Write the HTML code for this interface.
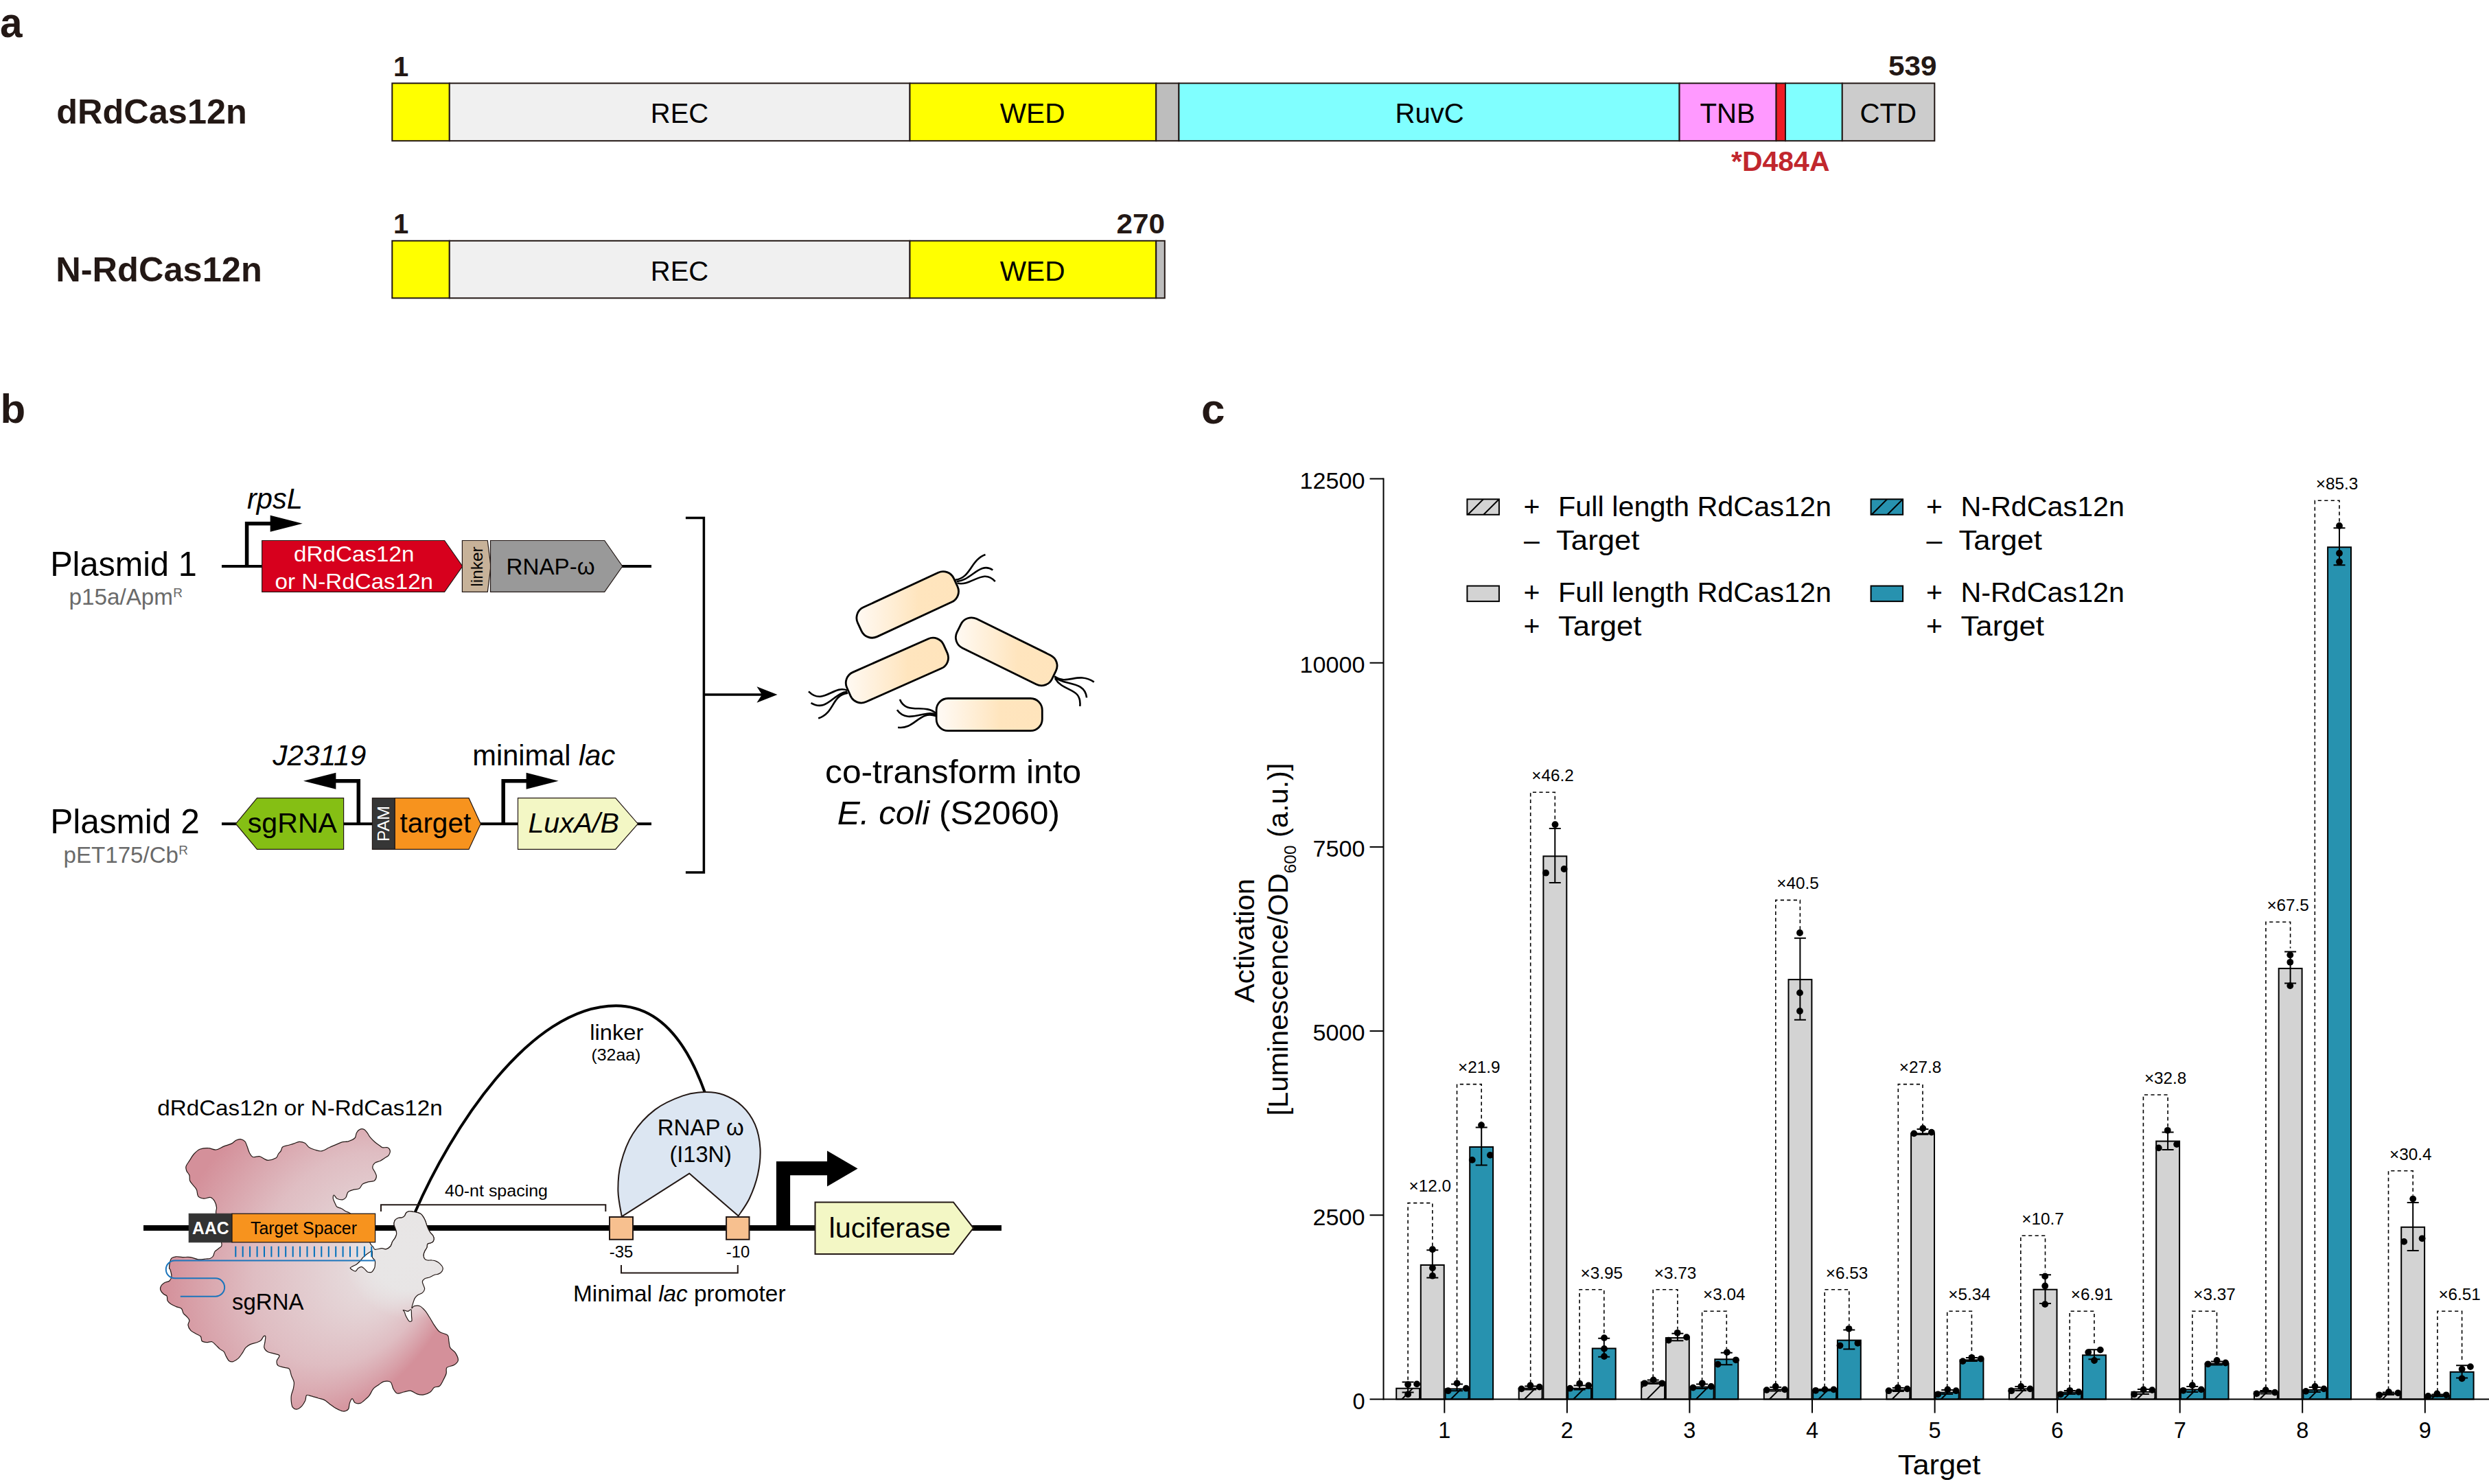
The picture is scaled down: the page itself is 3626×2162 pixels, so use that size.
<!DOCTYPE html>
<html><head><meta charset="utf-8"><title>Figure</title>
<style>html,body{margin:0;padding:0;background:#fff;}svg{display:block;}text{white-space:pre;}</style>
</head><body>
<svg width="3626" height="2162" viewBox="0 0 3626 2162" font-family='"Liberation Sans", Arial, Helvetica, sans-serif'>
<g id="panel_a">
<text x="0.0" y="54.0" font-size="61" fill="#231815" font-weight="bold" textLength="32.5" lengthAdjust="spacingAndGlyphs">a</text>
<text x="82.3" y="179.7" font-size="49.5" fill="#231815" font-weight="bold" textLength="277.5" lengthAdjust="spacingAndGlyphs">dRdCas12n</text>
<text x="81.3" y="410.0" font-size="49.5" fill="#231815" font-weight="bold" textLength="300.5" lengthAdjust="spacingAndGlyphs">N-RdCas12n</text>
<rect x="571.3" y="121.3" width="83.5" height="83.9" fill="#FFFF00" stroke="#231815" stroke-width="2"/>
<rect x="654.8" y="121.3" width="670.7" height="83.9" fill="#F0F0F0" stroke="#231815" stroke-width="2"/>
<rect x="1325.5" y="121.3" width="358.7" height="83.9" fill="#FFFF00" stroke="#231815" stroke-width="2"/>
<rect x="1684.2" y="121.3" width="33.2" height="83.9" fill="#BDBDBD" stroke="#231815" stroke-width="2"/>
<rect x="1717.4" y="121.3" width="729.2" height="83.9" fill="#80FFFF" stroke="#231815" stroke-width="2"/>
<rect x="2446.6" y="121.3" width="141.0" height="83.9" fill="#FF99FF" stroke="#231815" stroke-width="2"/>
<rect x="2587.6" y="121.3" width="13.4" height="83.9" fill="#ED1C24" stroke="#231815" stroke-width="2"/>
<rect x="2601.0" y="121.3" width="82.8" height="83.9" fill="#80FFFF" stroke="#231815" stroke-width="2"/>
<rect x="2683.8" y="121.3" width="134.5" height="83.9" fill="#CCCCCC" stroke="#231815" stroke-width="2"/>
<rect x="571.3" y="350.8" width="83.5" height="83.5" fill="#FFFF00" stroke="#231815" stroke-width="2"/>
<rect x="654.8" y="350.8" width="670.7" height="83.5" fill="#F0F0F0" stroke="#231815" stroke-width="2"/>
<rect x="1325.5" y="350.8" width="358.7" height="83.5" fill="#FFFF00" stroke="#231815" stroke-width="2"/>
<rect x="1684.2" y="350.8" width="12.6" height="83.5" fill="#BDBDBD" stroke="#231815" stroke-width="2"/>
<text x="990.0" y="179.3" font-size="40" text-anchor="middle">REC</text>
<text x="1504.1" y="179.3" font-size="40" text-anchor="middle" textLength="94.8" lengthAdjust="spacingAndGlyphs">WED</text>
<text x="2082.6" y="179.3" font-size="40" text-anchor="middle" textLength="100.2" lengthAdjust="spacingAndGlyphs">RuvC</text>
<text x="2516.7" y="179.3" font-size="40" text-anchor="middle" textLength="80.2" lengthAdjust="spacingAndGlyphs">TNB</text>
<text x="2750.7" y="179.3" font-size="40" text-anchor="middle" textLength="82.5" lengthAdjust="spacingAndGlyphs">CTD</text>
<text x="990.0" y="409.3" font-size="40" text-anchor="middle">REC</text>
<text x="1504.1" y="409.3" font-size="40" text-anchor="middle" textLength="94.8" lengthAdjust="spacingAndGlyphs">WED</text>
<text x="573.0" y="110.6" font-size="40" fill="#231815" font-weight="bold">1</text>
<text x="573.0" y="340.2" font-size="40" fill="#231815" font-weight="bold">1</text>
<text x="2821.5" y="110.3" font-size="40" fill="#231815" font-weight="bold" text-anchor="end" textLength="70.5" lengthAdjust="spacingAndGlyphs">539</text>
<text x="1697.0" y="340.0" font-size="40" fill="#231815" font-weight="bold" text-anchor="end" textLength="70.5" lengthAdjust="spacingAndGlyphs">270</text>
<text x="2522.0" y="248.7" font-size="40" fill="#C1272D" font-weight="bold" textLength="143.5" lengthAdjust="spacingAndGlyphs">*D484A</text>
</g>
<g id="panel_b1">
<text x="0.5" y="616.0" font-size="60" fill="#231815" font-weight="bold">b</text>
<text x="73.2" y="838.7" font-size="50" textLength="213.5" lengthAdjust="spacingAndGlyphs">Plasmid 1</text>
<text x="100.5" y="881.2" font-size="32.5" fill="#6A6A6A" textLength="151.5" lengthAdjust="spacingAndGlyphs">p15a/Apm</text>
<text x="252.3" y="869.8" font-size="19" fill="#6A6A6A">R</text>
<line x1="323.0" y1="825.0" x2="949.0" y2="825.0" stroke="#000" stroke-width="4"/>
<path d="M359.6,825.0 V762.8 H394.7" fill="none" stroke="#000" stroke-width="5.5" stroke-linejoin="miter"/>
<polygon points="393.7,750.8 440.7,762.8 393.7,774.8" fill="#000"/>
<text x="360.0" y="741.0" font-size="42" font-style="italic" textLength="81.0" lengthAdjust="spacingAndGlyphs">rpsL</text>
<polygon points="381.7,787.5 647.6,787.5 673.8,825.0 647.6,862.3 381.7,862.3" fill="#D7001D" stroke="#231815" stroke-width="1.2"/>
<text x="515.8" y="818.3" font-size="31.5" fill="#fff" text-anchor="middle" textLength="175.5" lengthAdjust="spacingAndGlyphs">dRdCas12n</text>
<text x="515.8" y="857.6" font-size="31.5" fill="#fff" text-anchor="middle" textLength="230.5" lengthAdjust="spacingAndGlyphs">or N-RdCas12n</text>
<polygon points="673.4,787.5 710.3,787.5 715.0,825.0 710.3,862.3 673.4,862.3" fill="#C7B299" stroke="#231815" stroke-width="1.2"/>
<text x="703.0" y="825.5" font-size="24" text-anchor="middle" textLength="58.5" lengthAdjust="spacingAndGlyphs" transform="rotate(-90 703.0 825.5)">linker</text>
<polygon points="714.5,787.5 880.7,787.5 906.8,825.0 880.7,862.3 714.5,862.3" fill="#999999" stroke="#231815" stroke-width="1.2"/>
<text x="737.6" y="836.5" font-size="33" textLength="129.0" lengthAdjust="spacingAndGlyphs">RNAP-ω</text>
<text x="73.2" y="1213.5" font-size="50" textLength="217.5" lengthAdjust="spacingAndGlyphs">Plasmid 2</text>
<text x="92.5" y="1256.7" font-size="32.5" fill="#6A6A6A" textLength="167.5" lengthAdjust="spacingAndGlyphs">pET175/Cb</text>
<text x="260.2" y="1244.9" font-size="19" fill="#6A6A6A">R</text>
<line x1="323.0" y1="1200.2" x2="949.0" y2="1200.2" stroke="#000" stroke-width="4"/>
<polygon points="343.5,1200.2 374.5,1162.7 500.6,1162.7 500.6,1237.4 374.5,1237.4" fill="#85BF14" stroke="#231815" stroke-width="1.2"/>
<text x="360.8" y="1213.0" font-size="41" textLength="130.2" lengthAdjust="spacingAndGlyphs">sgRNA</text>
<path d="M522.3,1200.2 V1137.8 H488.4" fill="none" stroke="#000" stroke-width="5.5" stroke-linejoin="miter"/>
<polygon points="489.4,1125.8 442.0,1137.8 489.4,1149.8" fill="#000"/>
<text x="397.3" y="1115.2" font-size="42" font-style="italic" textLength="136.0" lengthAdjust="spacingAndGlyphs">J23119</text>
<rect x="542.4" y="1162.7" width="32.9" height="74.7" fill="#363636" stroke="#231815" stroke-width="1.2"/>
<text x="567.3" y="1200.0" font-size="24" fill="#fff" text-anchor="middle" textLength="52.0" lengthAdjust="spacingAndGlyphs" transform="rotate(-90 567.3 1200.0)">PAM</text>
<polygon points="575.3,1162.7 683.0,1162.7 700.3,1200.2 683.0,1237.4 575.3,1237.4" fill="#F7931E" stroke="#231815" stroke-width="1.2"/>
<text x="582.6" y="1213.0" font-size="41" textLength="103.6" lengthAdjust="spacingAndGlyphs">target</text>
<path d="M733.2,1200.2 V1137.8 H767.6" fill="none" stroke="#000" stroke-width="5.5" stroke-linejoin="miter"/>
<polygon points="766.6,1125.8 813.6,1137.8 766.6,1149.8" fill="#000"/>
<text x="688.3" y="1115.2" font-size="42" textLength="208.0" lengthAdjust="spacingAndGlyphs">minimal <tspan font-style="italic">lac</tspan></text>
<polygon points="754.5,1162.7 896.7,1162.7 929.3,1200.2 896.7,1237.4 754.5,1237.4" fill="#F3F7C5" stroke="#231815" stroke-width="1.2"/>
<text x="769.4" y="1213.0" font-size="41" font-style="italic" textLength="132.6" lengthAdjust="spacingAndGlyphs">LuxA/B</text>
<path d="M998.9,754.4 H1025.4 V1271 H998.9" fill="none" stroke="#000" stroke-width="3.5"/>
<line x1="1025.4" y1="1012.0" x2="1110.0" y2="1012.0" stroke="#000" stroke-width="3.5"/>
<polygon points="1132.5,1012.0 1102.5,1000.3 1110.0,1012.0 1102.5,1023.7" fill="#000"/>
<defs><linearGradient id="bg" x1="0" y1="0" x2="1" y2="0"><stop offset="0.03" stop-color="#FFF9F2"/><stop offset="0.55" stop-color="#FFE5BE"/><stop offset="1" stop-color="#FFE4BC"/></linearGradient></defs>
<path d="M1391.6,844.7 C1414.0,842.8 1414.0,815.4 1435.5,808.0" fill="none" stroke="#000" stroke-width="2.6"/>
<path d="M1393.5,847.1 C1414.0,846.7 1427.7,817.4 1446.3,830.5" fill="none" stroke="#000" stroke-width="2.6"/>
<path d="M1394.5,849.6 C1416.0,854.5 1431.6,827.1 1449.8,847.1" fill="none" stroke="#000" stroke-width="2.6"/>
<path d="M1234.3,1005.9 C1214.7,997.1 1199.1,1028.4 1178.0,1007.3" fill="none" stroke="#000" stroke-width="2.6"/>
<path d="M1234.3,1007.9 C1214.7,1008.9 1204.9,1038.2 1181.5,1024.1" fill="none" stroke="#000" stroke-width="2.6"/>
<path d="M1235.2,1009.8 C1210.8,1012.8 1216.7,1038.2 1192.2,1046.6" fill="none" stroke="#000" stroke-width="2.6"/>
<path d="M1536.2,985.4 C1554.7,999.1 1570.4,977.6 1593.8,993.6" fill="none" stroke="#000" stroke-width="2.6"/>
<path d="M1536.8,987.0 C1550.8,999.1 1580.1,991.3 1583.1,1016.3" fill="none" stroke="#000" stroke-width="2.6"/>
<path d="M1537.1,988.3 C1548.9,1008.9 1576.2,1001.0 1573.3,1028.8" fill="none" stroke="#000" stroke-width="2.6"/>
<path d="M1363.2,1039.1 C1347.6,1024.5 1320.2,1042.1 1310.9,1019.0" fill="none" stroke="#000" stroke-width="2.6"/>
<path d="M1363.2,1041.1 C1347.6,1033.3 1322.2,1055.8 1306.9,1034.3" fill="none" stroke="#000" stroke-width="2.6"/>
<path d="M1363.2,1043.1 C1339.8,1034.3 1332.0,1063.6 1308.1,1059.7" fill="none" stroke="#000" stroke-width="2.6"/>
<linearGradient id="bg1322" gradientUnits="userSpaceOnUse" x1="-72.4" y1="-33.6" x2="72.4" y2="33.6"><stop offset="0.05" stop-color="#FFF9F2"/><stop offset="0.6" stop-color="#FFE5BE"/><stop offset="1" stop-color="#FFE4BC"/></linearGradient><rect x="-77.1" y="-23.6" width="154.2" height="47.2" rx="17" ry="17" fill="url(#bg1322)" stroke="#000" stroke-width="2.8" transform="translate(1322.2 880.9) rotate(-24.9)"/>
<linearGradient id="bg1306" gradientUnits="userSpaceOnUse" x1="-73.2" y1="-32.4" x2="73.2" y2="32.4"><stop offset="0.05" stop-color="#FFF9F2"/><stop offset="0.6" stop-color="#FFE5BE"/><stop offset="1" stop-color="#FFE4BC"/></linearGradient><rect x="-77.1" y="-23.6" width="154.2" height="47.2" rx="17" ry="17" fill="url(#bg1306)" stroke="#000" stroke-width="2.8" transform="translate(1306.9 976.6) rotate(-23.9)"/>
<linearGradient id="bg1466" gradientUnits="userSpaceOnUse" x1="-71.4" y1="35.1" x2="71.4" y2="-35.1"><stop offset="0.05" stop-color="#FFF9F2"/><stop offset="0.6" stop-color="#FFE5BE"/><stop offset="1" stop-color="#FFE4BC"/></linearGradient><rect x="-77.1" y="-23.6" width="154.2" height="47.2" rx="17" ry="17" fill="url(#bg1466)" stroke="#000" stroke-width="2.8" transform="translate(1466.2 949.3) rotate(26.2)"/>
<linearGradient id="bg1441" gradientUnits="userSpaceOnUse" x1="-77.1" y1="0.0" x2="77.1" y2="-0.0"><stop offset="0.05" stop-color="#FFF9F2"/><stop offset="0.6" stop-color="#FFE5BE"/><stop offset="1" stop-color="#FFE4BC"/></linearGradient><rect x="-77.1" y="-23.6" width="154.2" height="47.2" rx="17" ry="17" fill="url(#bg1441)" stroke="#000" stroke-width="2.8" transform="translate(1441.2 1041.1) rotate(0)"/>
<text x="1202.0" y="1141.3" font-size="48" textLength="373.3" lengthAdjust="spacingAndGlyphs">co-transform into</text>
<text x="1219.7" y="1200.7" font-size="48" textLength="324.3" lengthAdjust="spacingAndGlyphs"><tspan font-style="italic">E. coli</tspan> (S2060)</text>
</g>
<g id="panel_b2">
<defs><radialGradient id="blobg" gradientUnits="userSpaceOnUse" cx="0" cy="0" r="1" fx="0.527" fy="-0.226" gradientTransform="translate(461 1831) rotate(32.3) scale(206 265)"><stop offset="0" stop-color="#E9E7E7"/><stop offset="0.62" stop-color="#DFBDC2"/><stop offset="1" stop-color="#D4909A"/></radialGradient><radialGradient id="lobeg" gradientUnits="userSpaceOnUse" cx="600" cy="1822" r="100"><stop offset="0" stop-color="#E8E6E6" stop-opacity="1"/><stop offset="0.58" stop-color="#E8E6E6" stop-opacity="0.95"/><stop offset="1" stop-color="#E8E6E6" stop-opacity="0"/></radialGradient></defs>
<clipPath id="blobclip"><path d="M314.7,1768.0C314.1,1762.9 315.9,1762.2 315.5,1759.1C315.1,1756.0 313.8,1751.8 312.3,1749.4C310.8,1747.0 309.2,1745.1 306.6,1744.5C304.1,1744.0 299.9,1746.4 296.9,1746.2C293.9,1745.9 290.6,1745.1 288.8,1742.9C287.1,1740.8 287.6,1735.9 286.4,1733.2C285.2,1730.5 283.2,1728.9 281.5,1726.8C279.9,1724.6 277.6,1722.7 276.7,1720.3C275.7,1717.9 276.7,1714.6 275.9,1712.2C275.1,1709.8 272.6,1707.9 271.8,1705.7C271.0,1703.6 270.4,1701.7 271.0,1699.3C271.7,1696.8 274.0,1694.1 275.9,1691.2C277.8,1688.2 279.8,1684.3 282.3,1681.5C284.9,1678.6 287.7,1675.7 291.2,1674.2C294.7,1672.7 299.5,1672.4 303.4,1672.6C307.3,1672.7 310.9,1675.4 314.7,1675.0C318.5,1674.6 322.2,1671.6 326.0,1670.1C329.8,1668.7 334.4,1667.6 337.3,1666.1C340.3,1664.6 341.7,1662.3 343.8,1661.2C346.0,1660.2 348.1,1659.4 350.3,1659.6C352.4,1659.9 355.1,1661.1 356.8,1662.9C358.4,1664.6 358.9,1667.4 360.0,1670.1C361.1,1672.8 361.9,1676.5 363.2,1679.0C364.6,1681.6 365.6,1684.6 368.1,1685.5C370.5,1686.5 375.1,1684.3 377.8,1684.7C380.5,1685.1 382.1,1687.0 384.2,1687.9C386.4,1688.9 387.8,1690.5 390.7,1690.4C393.7,1690.2 399.6,1688.6 402.0,1687.1C404.5,1685.6 404.1,1683.2 405.3,1681.5C406.5,1679.7 408.2,1678.4 409.3,1676.6C410.4,1674.9 410.0,1672.3 411.7,1671.0C413.5,1669.6 417.1,1669.3 419.8,1668.5C422.5,1667.7 425.2,1667.0 427.9,1666.1C430.6,1665.2 433.3,1663.5 436.0,1663.3C438.7,1663.2 441.7,1663.9 444.1,1665.3C446.5,1666.7 448.1,1670.1 450.6,1671.8C453.0,1673.4 455.7,1674.1 458.7,1675.0C461.6,1675.9 464.9,1677.5 468.4,1676.9C471.9,1676.4 475.9,1673.4 479.7,1671.8C483.5,1670.1 487.8,1668.3 491.0,1666.9C494.2,1665.6 496.4,1664.3 499.1,1663.7C501.8,1663.0 504.2,1663.8 507.2,1662.9C510.1,1661.9 514.9,1660.0 516.9,1658.0C518.9,1656.0 518.2,1652.8 519.3,1650.7C520.4,1648.7 521.6,1646.8 523.4,1645.9C525.1,1644.9 527.9,1644.4 529.8,1645.1C531.7,1645.7 533.1,1647.9 534.7,1649.9C536.3,1651.9 537.6,1654.9 539.5,1657.2C541.4,1659.5 543.8,1661.8 546.0,1663.7C548.2,1665.6 550.6,1667.2 552.5,1668.5C554.4,1669.9 555.3,1671.2 557.3,1671.8C559.3,1672.3 562.8,1671.0 564.6,1671.8C566.4,1672.6 568.0,1674.7 568.3,1676.6C568.6,1678.5 567.5,1681.3 566.2,1683.1C564.9,1684.8 562.6,1685.8 560.6,1687.1C558.5,1688.5 556.5,1690.0 554.1,1691.2C551.7,1692.4 547.9,1692.8 546.0,1694.4C544.1,1696.0 542.8,1698.7 542.8,1700.9C542.8,1703.0 545.1,1705.2 546.0,1707.3C546.9,1709.5 548.6,1711.7 548.4,1713.8C548.3,1716.0 547.2,1718.9 545.2,1720.3C543.2,1721.6 539.1,1721.1 536.3,1721.9C533.5,1722.7 530.4,1723.5 528.2,1725.1C526.0,1726.8 525.5,1730.3 523.4,1731.6C521.2,1733.0 518.0,1732.4 515.3,1733.2C512.6,1734.0 509.1,1734.6 507.2,1736.5C505.3,1738.3 505.3,1742.7 503.9,1744.5C502.6,1746.4 501.2,1747.5 499.1,1747.8C496.9,1748.0 493.1,1747.3 491.0,1746.2C488.9,1745.0 487.4,1741.0 486.5,1741.0C485.5,1741.0 485.0,1744.0 485.3,1746.2C485.7,1748.4 487.6,1752.2 488.6,1754.2C489.5,1756.3 489.5,1757.2 491.0,1758.3C492.5,1759.4 495.3,1759.6 497.5,1760.7C499.6,1761.8 501.8,1763.6 503.9,1764.8C506.1,1766.0 506.9,1765.2 510.4,1768.0C513.9,1770.8 520.9,1776.8 525.0,1781.7C529.0,1786.7 532.2,1792.9 534.7,1797.9C537.1,1802.9 538.0,1808.6 539.5,1811.7C541.0,1814.8 542.4,1815.1 543.6,1816.5C544.7,1818.0 544.3,1820.0 546.4,1820.3C548.4,1820.7 553.4,1818.8 556.1,1818.7C558.8,1818.6 560.4,1820.3 562.5,1819.8C564.7,1819.2 567.5,1817.3 569.0,1815.5C570.5,1813.7 570.6,1811.0 571.7,1809.0C572.8,1807.0 574.5,1805.4 575.5,1803.6C576.5,1801.8 577.4,1800.0 577.6,1798.2C577.9,1796.4 577.4,1794.4 577.1,1792.8C576.7,1791.2 576.0,1790.1 575.5,1788.5C574.9,1786.9 573.9,1784.9 573.9,1783.1C573.9,1781.3 574.5,1779.2 575.5,1777.7C576.5,1776.3 578.2,1775.1 579.8,1774.5C581.4,1773.9 583.6,1774.5 585.2,1774.0C586.8,1773.4 588.4,1772.4 589.5,1771.3C590.6,1770.1 590.6,1768.1 591.6,1767.0C592.7,1765.8 594.3,1764.9 596.0,1764.6C597.6,1764.3 599.4,1765.0 601.3,1765.3C603.3,1765.6 605.8,1765.9 607.8,1766.4C609.8,1767.0 611.7,1767.4 613.2,1768.6C614.7,1769.7 615.9,1771.7 617.0,1773.4C618.1,1775.1 618.9,1776.8 619.7,1778.8C620.5,1780.8 621.1,1783.3 621.8,1785.3C622.6,1787.3 623.1,1788.9 624.0,1790.7C624.9,1792.5 626.1,1794.4 627.2,1796.1C628.4,1797.7 630.2,1798.8 631.0,1800.4C631.8,1802.0 632.3,1804.2 632.1,1805.8C631.8,1807.4 630.9,1809.0 629.4,1810.1C627.9,1811.2 624.2,1811.0 622.9,1812.2C621.7,1813.5 622.6,1815.8 621.8,1817.6C621.1,1819.4 619.4,1821.2 618.6,1823.0C617.8,1824.8 617.0,1826.6 617.0,1828.4C617.0,1830.2 617.6,1832.5 618.6,1833.8C619.6,1835.1 621.1,1835.6 622.9,1836.0C624.7,1836.3 627.2,1835.7 629.4,1836.0C631.5,1836.2 633.9,1836.7 635.8,1837.6C637.8,1838.5 639.7,1839.8 641.2,1841.3C642.8,1842.9 644.6,1844.9 645.0,1846.7C645.5,1848.5 644.9,1850.6 643.9,1852.1C642.9,1853.7 641.0,1855.0 639.1,1855.9C637.2,1856.8 634.8,1856.7 632.6,1857.5C630.5,1858.3 628.5,1859.9 626.1,1860.8C623.8,1861.7 620.4,1861.8 618.6,1862.9C616.8,1864.0 615.6,1865.6 615.4,1867.2C615.1,1868.8 616.4,1870.8 617.0,1872.6C617.5,1874.4 618.9,1876.2 618.6,1878.0C618.3,1879.8 617.0,1882.0 615.4,1883.4C613.7,1884.8 610.7,1885.4 608.9,1886.6C607.1,1887.9 605.7,1889.3 604.6,1890.9C603.5,1892.6 603.2,1893.9 602.4,1896.3C601.6,1898.8 599.7,1904.5 599.9,1905.6C600.1,1906.6 601.8,1903.2 603.8,1902.7C605.7,1902.2 608.9,1901.6 611.5,1902.7C614.1,1903.8 616.6,1906.4 619.2,1909.4C621.8,1912.5 624.7,1917.5 626.9,1921.0C629.2,1924.5 630.4,1927.4 632.7,1930.6C634.9,1933.9 637.2,1937.9 640.4,1940.3C643.6,1942.7 649.7,1942.9 652.0,1945.1C654.2,1947.4 653.3,1950.7 653.9,1953.8C654.6,1956.8 654.2,1960.5 655.8,1963.4C657.4,1966.3 661.6,1968.1 663.6,1971.1C665.5,1974.2 667.7,1978.9 667.4,1981.7C667.1,1984.6 664.4,1986.7 661.6,1988.5C658.9,1990.3 652.9,1990.3 651.0,1992.4C649.1,1994.4 650.9,1998.1 650.1,2001.0C649.3,2003.9 647.8,2006.7 646.2,2009.7C644.6,2012.8 642.7,2017.4 640.4,2019.3C638.2,2021.3 634.9,2019.8 632.7,2021.3C630.4,2022.7 629.5,2026.3 626.9,2028.0C624.3,2029.8 620.5,2031.4 617.3,2031.9C614.1,2032.4 610.8,2031.9 607.6,2030.9C604.4,2030.0 601.2,2026.6 598.0,2026.1C594.8,2025.6 591.6,2027.4 588.3,2028.0C585.1,2028.7 581.3,2030.8 578.7,2030.0C576.1,2029.2 574.5,2025.9 572.9,2023.2C571.3,2020.5 571.3,2015.3 569.1,2013.6C566.8,2011.8 562.3,2012.0 559.4,2012.6C556.5,2013.2 554.3,2015.7 551.7,2017.4C549.1,2019.2 546.2,2020.6 544.0,2023.2C541.7,2025.8 540.1,2030.3 538.2,2032.8C536.3,2035.4 534.7,2036.7 532.4,2038.6C530.2,2040.6 527.3,2043.6 524.7,2044.4C522.1,2045.2 518.9,2044.6 517.0,2043.5C515.1,2042.3 514.4,2037.5 513.1,2037.7C511.8,2037.8 510.2,2041.8 509.3,2044.4C508.3,2047.0 509.0,2051.2 507.3,2053.1C505.7,2055.0 502.5,2056.2 499.6,2056.0C496.7,2055.8 493.2,2053.9 490.0,2052.1C486.8,2050.4 483.2,2047.5 480.3,2045.4C477.5,2043.3 475.5,2041.0 472.6,2039.6C469.7,2038.2 466.2,2037.7 463.0,2036.7C459.8,2035.7 456.1,2034.5 453.3,2033.8C450.6,2033.2 448.0,2031.7 446.6,2032.8C445.2,2034.0 445.8,2038.0 444.7,2040.6C443.5,2043.1 441.9,2046.2 439.8,2048.3C437.8,2050.4 434.4,2052.8 432.1,2053.1C429.9,2053.4 427.6,2052.0 426.3,2050.2C425.1,2048.4 424.7,2045.4 424.4,2042.5C424.1,2039.6 423.9,2036.1 424.4,2032.8C424.9,2029.6 426.7,2026.4 427.3,2023.2C428.0,2020.0 428.8,2016.8 428.3,2013.6C427.8,2010.4 425.5,2007.1 424.4,2003.9C423.3,2000.7 423.1,1996.2 421.5,1994.3C419.9,1992.4 417.5,1993.2 414.8,1992.4C412.0,1991.5 407.1,1991.1 405.1,1989.5C403.2,1987.9 402.9,1985.1 403.2,1982.7C403.5,1980.3 407.7,1976.8 407.1,1975.0C406.4,1973.2 402.2,1973.1 399.3,1972.1C396.5,1971.1 392.1,1970.7 389.7,1969.2C387.3,1967.8 385.5,1965.7 384.9,1963.4C384.2,1961.2 385.5,1958.4 385.9,1955.7C386.2,1953.0 387.1,1948.5 386.8,1947.0C386.5,1945.6 385.0,1946.1 383.9,1947.0C382.8,1948.0 381.7,1951.4 380.1,1952.8C378.5,1954.3 376.9,1954.7 374.3,1955.7C371.7,1956.7 367.4,1957.3 364.6,1958.6C361.9,1959.9 359.8,1961.3 357.9,1963.4C356.0,1965.5 354.8,1968.6 353.1,1971.1C351.3,1973.7 349.5,1976.8 347.3,1978.9C345.0,1980.9 341.8,1983.0 339.6,1983.7C337.3,1984.3 335.4,1983.8 333.8,1982.7C332.2,1981.6 331.2,1979.2 329.9,1976.9C328.6,1974.7 327.7,1971.1 326.1,1969.2C324.5,1967.3 322.2,1967.0 320.3,1965.4C318.4,1963.7 316.4,1961.3 314.5,1959.6C312.6,1957.8 311.0,1955.4 308.7,1954.7C306.5,1954.1 303.4,1955.9 301.0,1955.7C298.6,1955.5 295.7,1955.2 294.2,1953.8C292.8,1952.3 293.8,1948.8 292.3,1947.0C290.9,1945.3 288.0,1944.6 285.6,1943.2C283.2,1941.7 279.8,1940.4 277.9,1938.4C275.9,1936.3 274.3,1933.0 274.0,1930.6C273.7,1928.2 276.1,1925.8 275.9,1923.9C275.8,1922.0 274.5,1920.8 273.0,1919.1C271.6,1917.3 268.7,1915.4 267.2,1913.3C265.8,1911.2 266.1,1908.1 264.4,1906.5C262.6,1904.9 259.2,1904.8 256.6,1903.6C254.1,1902.5 251.0,1901.2 248.9,1899.8C246.8,1898.3 245.1,1896.9 244.1,1895.0C243.1,1893.0 244.1,1889.8 243.1,1888.2C242.2,1886.6 239.9,1886.8 238.3,1885.3C236.8,1883.9 234.5,1881.5 233.9,1879.5C233.2,1877.6 233.6,1875.5 234.5,1873.7C235.4,1872.0 237.2,1870.2 239.3,1868.9C241.4,1867.6 245.2,1867.6 247.0,1866.0C248.8,1864.4 249.7,1862.0 249.9,1859.3C250.1,1856.6 248.5,1851.6 248.0,1849.6C247.4,1847.7 246.7,1849.4 246.6,1847.8C246.5,1846.1 246.9,1842.1 247.4,1839.7C248.0,1837.3 248.4,1834.7 249.8,1833.2C251.3,1831.7 253.6,1831.1 256.3,1830.8C259.0,1830.5 262.5,1831.5 266.0,1831.6C269.5,1831.7 273.6,1831.1 277.3,1831.6C281.1,1832.1 284.9,1834.4 288.7,1834.8C292.4,1835.2 297.0,1834.3 300.0,1834.0C303.0,1833.8 304.7,1833.9 306.5,1833.2C308.2,1832.5 309.4,1831.6 310.5,1830.0C311.6,1828.4 311.7,1825.3 312.9,1823.5C314.1,1821.8 316.2,1820.8 317.8,1819.5C319.4,1818.1 321.8,1817.0 322.6,1815.4C323.4,1813.8 323.2,1814.1 322.6,1809.8C322.1,1805.5 320.7,1796.5 319.4,1789.6C318.1,1782.6 315.3,1773.1 314.7,1768.0Z"/></clipPath>
<g id="blobfill"><path d="M314.7,1768.0C314.1,1762.9 315.9,1762.2 315.5,1759.1C315.1,1756.0 313.8,1751.8 312.3,1749.4C310.8,1747.0 309.2,1745.1 306.6,1744.5C304.1,1744.0 299.9,1746.4 296.9,1746.2C293.9,1745.9 290.6,1745.1 288.8,1742.9C287.1,1740.8 287.6,1735.9 286.4,1733.2C285.2,1730.5 283.2,1728.9 281.5,1726.8C279.9,1724.6 277.6,1722.7 276.7,1720.3C275.7,1717.9 276.7,1714.6 275.9,1712.2C275.1,1709.8 272.6,1707.9 271.8,1705.7C271.0,1703.6 270.4,1701.7 271.0,1699.3C271.7,1696.8 274.0,1694.1 275.9,1691.2C277.8,1688.2 279.8,1684.3 282.3,1681.5C284.9,1678.6 287.7,1675.7 291.2,1674.2C294.7,1672.7 299.5,1672.4 303.4,1672.6C307.3,1672.7 310.9,1675.4 314.7,1675.0C318.5,1674.6 322.2,1671.6 326.0,1670.1C329.8,1668.7 334.4,1667.6 337.3,1666.1C340.3,1664.6 341.7,1662.3 343.8,1661.2C346.0,1660.2 348.1,1659.4 350.3,1659.6C352.4,1659.9 355.1,1661.1 356.8,1662.9C358.4,1664.6 358.9,1667.4 360.0,1670.1C361.1,1672.8 361.9,1676.5 363.2,1679.0C364.6,1681.6 365.6,1684.6 368.1,1685.5C370.5,1686.5 375.1,1684.3 377.8,1684.7C380.5,1685.1 382.1,1687.0 384.2,1687.9C386.4,1688.9 387.8,1690.5 390.7,1690.4C393.7,1690.2 399.6,1688.6 402.0,1687.1C404.5,1685.6 404.1,1683.2 405.3,1681.5C406.5,1679.7 408.2,1678.4 409.3,1676.6C410.4,1674.9 410.0,1672.3 411.7,1671.0C413.5,1669.6 417.1,1669.3 419.8,1668.5C422.5,1667.7 425.2,1667.0 427.9,1666.1C430.6,1665.2 433.3,1663.5 436.0,1663.3C438.7,1663.2 441.7,1663.9 444.1,1665.3C446.5,1666.7 448.1,1670.1 450.6,1671.8C453.0,1673.4 455.7,1674.1 458.7,1675.0C461.6,1675.9 464.9,1677.5 468.4,1676.9C471.9,1676.4 475.9,1673.4 479.7,1671.8C483.5,1670.1 487.8,1668.3 491.0,1666.9C494.2,1665.6 496.4,1664.3 499.1,1663.7C501.8,1663.0 504.2,1663.8 507.2,1662.9C510.1,1661.9 514.9,1660.0 516.9,1658.0C518.9,1656.0 518.2,1652.8 519.3,1650.7C520.4,1648.7 521.6,1646.8 523.4,1645.9C525.1,1644.9 527.9,1644.4 529.8,1645.1C531.7,1645.7 533.1,1647.9 534.7,1649.9C536.3,1651.9 537.6,1654.9 539.5,1657.2C541.4,1659.5 543.8,1661.8 546.0,1663.7C548.2,1665.6 550.6,1667.2 552.5,1668.5C554.4,1669.9 555.3,1671.2 557.3,1671.8C559.3,1672.3 562.8,1671.0 564.6,1671.8C566.4,1672.6 568.0,1674.7 568.3,1676.6C568.6,1678.5 567.5,1681.3 566.2,1683.1C564.9,1684.8 562.6,1685.8 560.6,1687.1C558.5,1688.5 556.5,1690.0 554.1,1691.2C551.7,1692.4 547.9,1692.8 546.0,1694.4C544.1,1696.0 542.8,1698.7 542.8,1700.9C542.8,1703.0 545.1,1705.2 546.0,1707.3C546.9,1709.5 548.6,1711.7 548.4,1713.8C548.3,1716.0 547.2,1718.9 545.2,1720.3C543.2,1721.6 539.1,1721.1 536.3,1721.9C533.5,1722.7 530.4,1723.5 528.2,1725.1C526.0,1726.8 525.5,1730.3 523.4,1731.6C521.2,1733.0 518.0,1732.4 515.3,1733.2C512.6,1734.0 509.1,1734.6 507.2,1736.5C505.3,1738.3 505.3,1742.7 503.9,1744.5C502.6,1746.4 501.2,1747.5 499.1,1747.8C496.9,1748.0 493.1,1747.3 491.0,1746.2C488.9,1745.0 487.4,1741.0 486.5,1741.0C485.5,1741.0 485.0,1744.0 485.3,1746.2C485.7,1748.4 487.6,1752.2 488.6,1754.2C489.5,1756.3 489.5,1757.2 491.0,1758.3C492.5,1759.4 495.3,1759.6 497.5,1760.7C499.6,1761.8 501.8,1763.6 503.9,1764.8C506.1,1766.0 506.9,1765.2 510.4,1768.0C513.9,1770.8 520.9,1776.8 525.0,1781.7C529.0,1786.7 532.2,1792.9 534.7,1797.9C537.1,1802.9 538.0,1808.6 539.5,1811.7C541.0,1814.8 542.4,1815.1 543.6,1816.5C544.7,1818.0 544.3,1820.0 546.4,1820.3C548.4,1820.7 553.4,1818.8 556.1,1818.7C558.8,1818.6 560.4,1820.3 562.5,1819.8C564.7,1819.2 567.5,1817.3 569.0,1815.5C570.5,1813.7 570.6,1811.0 571.7,1809.0C572.8,1807.0 574.5,1805.4 575.5,1803.6C576.5,1801.8 577.4,1800.0 577.6,1798.2C577.9,1796.4 577.4,1794.4 577.1,1792.8C576.7,1791.2 576.0,1790.1 575.5,1788.5C574.9,1786.9 573.9,1784.9 573.9,1783.1C573.9,1781.3 574.5,1779.2 575.5,1777.7C576.5,1776.3 578.2,1775.1 579.8,1774.5C581.4,1773.9 583.6,1774.5 585.2,1774.0C586.8,1773.4 588.4,1772.4 589.5,1771.3C590.6,1770.1 590.6,1768.1 591.6,1767.0C592.7,1765.8 594.3,1764.9 596.0,1764.6C597.6,1764.3 599.4,1765.0 601.3,1765.3C603.3,1765.6 605.8,1765.9 607.8,1766.4C609.8,1767.0 611.7,1767.4 613.2,1768.6C614.7,1769.7 615.9,1771.7 617.0,1773.4C618.1,1775.1 618.9,1776.8 619.7,1778.8C620.5,1780.8 621.1,1783.3 621.8,1785.3C622.6,1787.3 623.1,1788.9 624.0,1790.7C624.9,1792.5 626.1,1794.4 627.2,1796.1C628.4,1797.7 630.2,1798.8 631.0,1800.4C631.8,1802.0 632.3,1804.2 632.1,1805.8C631.8,1807.4 630.9,1809.0 629.4,1810.1C627.9,1811.2 624.2,1811.0 622.9,1812.2C621.7,1813.5 622.6,1815.8 621.8,1817.6C621.1,1819.4 619.4,1821.2 618.6,1823.0C617.8,1824.8 617.0,1826.6 617.0,1828.4C617.0,1830.2 617.6,1832.5 618.6,1833.8C619.6,1835.1 621.1,1835.6 622.9,1836.0C624.7,1836.3 627.2,1835.7 629.4,1836.0C631.5,1836.2 633.9,1836.7 635.8,1837.6C637.8,1838.5 639.7,1839.8 641.2,1841.3C642.8,1842.9 644.6,1844.9 645.0,1846.7C645.5,1848.5 644.9,1850.6 643.9,1852.1C642.9,1853.7 641.0,1855.0 639.1,1855.9C637.2,1856.8 634.8,1856.7 632.6,1857.5C630.5,1858.3 628.5,1859.9 626.1,1860.8C623.8,1861.7 620.4,1861.8 618.6,1862.9C616.8,1864.0 615.6,1865.6 615.4,1867.2C615.1,1868.8 616.4,1870.8 617.0,1872.6C617.5,1874.4 618.9,1876.2 618.6,1878.0C618.3,1879.8 617.0,1882.0 615.4,1883.4C613.7,1884.8 610.7,1885.4 608.9,1886.6C607.1,1887.9 605.7,1889.3 604.6,1890.9C603.5,1892.6 603.2,1893.9 602.4,1896.3C601.6,1898.8 599.7,1904.5 599.9,1905.6C600.1,1906.6 601.8,1903.2 603.8,1902.7C605.7,1902.2 608.9,1901.6 611.5,1902.7C614.1,1903.8 616.6,1906.4 619.2,1909.4C621.8,1912.5 624.7,1917.5 626.9,1921.0C629.2,1924.5 630.4,1927.4 632.7,1930.6C634.9,1933.9 637.2,1937.9 640.4,1940.3C643.6,1942.7 649.7,1942.9 652.0,1945.1C654.2,1947.4 653.3,1950.7 653.9,1953.8C654.6,1956.8 654.2,1960.5 655.8,1963.4C657.4,1966.3 661.6,1968.1 663.6,1971.1C665.5,1974.2 667.7,1978.9 667.4,1981.7C667.1,1984.6 664.4,1986.7 661.6,1988.5C658.9,1990.3 652.9,1990.3 651.0,1992.4C649.1,1994.4 650.9,1998.1 650.1,2001.0C649.3,2003.9 647.8,2006.7 646.2,2009.7C644.6,2012.8 642.7,2017.4 640.4,2019.3C638.2,2021.3 634.9,2019.8 632.7,2021.3C630.4,2022.7 629.5,2026.3 626.9,2028.0C624.3,2029.8 620.5,2031.4 617.3,2031.9C614.1,2032.4 610.8,2031.9 607.6,2030.9C604.4,2030.0 601.2,2026.6 598.0,2026.1C594.8,2025.6 591.6,2027.4 588.3,2028.0C585.1,2028.7 581.3,2030.8 578.7,2030.0C576.1,2029.2 574.5,2025.9 572.9,2023.2C571.3,2020.5 571.3,2015.3 569.1,2013.6C566.8,2011.8 562.3,2012.0 559.4,2012.6C556.5,2013.2 554.3,2015.7 551.7,2017.4C549.1,2019.2 546.2,2020.6 544.0,2023.2C541.7,2025.8 540.1,2030.3 538.2,2032.8C536.3,2035.4 534.7,2036.7 532.4,2038.6C530.2,2040.6 527.3,2043.6 524.7,2044.4C522.1,2045.2 518.9,2044.6 517.0,2043.5C515.1,2042.3 514.4,2037.5 513.1,2037.7C511.8,2037.8 510.2,2041.8 509.3,2044.4C508.3,2047.0 509.0,2051.2 507.3,2053.1C505.7,2055.0 502.5,2056.2 499.6,2056.0C496.7,2055.8 493.2,2053.9 490.0,2052.1C486.8,2050.4 483.2,2047.5 480.3,2045.4C477.5,2043.3 475.5,2041.0 472.6,2039.6C469.7,2038.2 466.2,2037.7 463.0,2036.7C459.8,2035.7 456.1,2034.5 453.3,2033.8C450.6,2033.2 448.0,2031.7 446.6,2032.8C445.2,2034.0 445.8,2038.0 444.7,2040.6C443.5,2043.1 441.9,2046.2 439.8,2048.3C437.8,2050.4 434.4,2052.8 432.1,2053.1C429.9,2053.4 427.6,2052.0 426.3,2050.2C425.1,2048.4 424.7,2045.4 424.4,2042.5C424.1,2039.6 423.9,2036.1 424.4,2032.8C424.9,2029.6 426.7,2026.4 427.3,2023.2C428.0,2020.0 428.8,2016.8 428.3,2013.6C427.8,2010.4 425.5,2007.1 424.4,2003.9C423.3,2000.7 423.1,1996.2 421.5,1994.3C419.9,1992.4 417.5,1993.2 414.8,1992.4C412.0,1991.5 407.1,1991.1 405.1,1989.5C403.2,1987.9 402.9,1985.1 403.2,1982.7C403.5,1980.3 407.7,1976.8 407.1,1975.0C406.4,1973.2 402.2,1973.1 399.3,1972.1C396.5,1971.1 392.1,1970.7 389.7,1969.2C387.3,1967.8 385.5,1965.7 384.9,1963.4C384.2,1961.2 385.5,1958.4 385.9,1955.7C386.2,1953.0 387.1,1948.5 386.8,1947.0C386.5,1945.6 385.0,1946.1 383.9,1947.0C382.8,1948.0 381.7,1951.4 380.1,1952.8C378.5,1954.3 376.9,1954.7 374.3,1955.7C371.7,1956.7 367.4,1957.3 364.6,1958.6C361.9,1959.9 359.8,1961.3 357.9,1963.4C356.0,1965.5 354.8,1968.6 353.1,1971.1C351.3,1973.7 349.5,1976.8 347.3,1978.9C345.0,1980.9 341.8,1983.0 339.6,1983.7C337.3,1984.3 335.4,1983.8 333.8,1982.7C332.2,1981.6 331.2,1979.2 329.9,1976.9C328.6,1974.7 327.7,1971.1 326.1,1969.2C324.5,1967.3 322.2,1967.0 320.3,1965.4C318.4,1963.7 316.4,1961.3 314.5,1959.6C312.6,1957.8 311.0,1955.4 308.7,1954.7C306.5,1954.1 303.4,1955.9 301.0,1955.7C298.6,1955.5 295.7,1955.2 294.2,1953.8C292.8,1952.3 293.8,1948.8 292.3,1947.0C290.9,1945.3 288.0,1944.6 285.6,1943.2C283.2,1941.7 279.8,1940.4 277.9,1938.4C275.9,1936.3 274.3,1933.0 274.0,1930.6C273.7,1928.2 276.1,1925.8 275.9,1923.9C275.8,1922.0 274.5,1920.8 273.0,1919.1C271.6,1917.3 268.7,1915.4 267.2,1913.3C265.8,1911.2 266.1,1908.1 264.4,1906.5C262.6,1904.9 259.2,1904.8 256.6,1903.6C254.1,1902.5 251.0,1901.2 248.9,1899.8C246.8,1898.3 245.1,1896.9 244.1,1895.0C243.1,1893.0 244.1,1889.8 243.1,1888.2C242.2,1886.6 239.9,1886.8 238.3,1885.3C236.8,1883.9 234.5,1881.5 233.9,1879.5C233.2,1877.6 233.6,1875.5 234.5,1873.7C235.4,1872.0 237.2,1870.2 239.3,1868.9C241.4,1867.6 245.2,1867.6 247.0,1866.0C248.8,1864.4 249.7,1862.0 249.9,1859.3C250.1,1856.6 248.5,1851.6 248.0,1849.6C247.4,1847.7 246.7,1849.4 246.6,1847.8C246.5,1846.1 246.9,1842.1 247.4,1839.7C248.0,1837.3 248.4,1834.7 249.8,1833.2C251.3,1831.7 253.6,1831.1 256.3,1830.8C259.0,1830.5 262.5,1831.5 266.0,1831.6C269.5,1831.7 273.6,1831.1 277.3,1831.6C281.1,1832.1 284.9,1834.4 288.7,1834.8C292.4,1835.2 297.0,1834.3 300.0,1834.0C303.0,1833.8 304.7,1833.9 306.5,1833.2C308.2,1832.5 309.4,1831.6 310.5,1830.0C311.6,1828.4 311.7,1825.3 312.9,1823.5C314.1,1821.8 316.2,1820.8 317.8,1819.5C319.4,1818.1 321.8,1817.0 322.6,1815.4C323.4,1813.8 323.2,1814.1 322.6,1809.8C322.1,1805.5 320.7,1796.5 319.4,1789.6C318.1,1782.6 315.3,1773.1 314.7,1768.0Z" fill="url(#blobg)"/><rect x="490" y="1715" width="220" height="220" fill="url(#lobeg)" clip-path="url(#blobclip)"/><path d="M314.7,1768.0C314.1,1762.9 315.9,1762.2 315.5,1759.1C315.1,1756.0 313.8,1751.8 312.3,1749.4C310.8,1747.0 309.2,1745.1 306.6,1744.5C304.1,1744.0 299.9,1746.4 296.9,1746.2C293.9,1745.9 290.6,1745.1 288.8,1742.9C287.1,1740.8 287.6,1735.9 286.4,1733.2C285.2,1730.5 283.2,1728.9 281.5,1726.8C279.9,1724.6 277.6,1722.7 276.7,1720.3C275.7,1717.9 276.7,1714.6 275.9,1712.2C275.1,1709.8 272.6,1707.9 271.8,1705.7C271.0,1703.6 270.4,1701.7 271.0,1699.3C271.7,1696.8 274.0,1694.1 275.9,1691.2C277.8,1688.2 279.8,1684.3 282.3,1681.5C284.9,1678.6 287.7,1675.7 291.2,1674.2C294.7,1672.7 299.5,1672.4 303.4,1672.6C307.3,1672.7 310.9,1675.4 314.7,1675.0C318.5,1674.6 322.2,1671.6 326.0,1670.1C329.8,1668.7 334.4,1667.6 337.3,1666.1C340.3,1664.6 341.7,1662.3 343.8,1661.2C346.0,1660.2 348.1,1659.4 350.3,1659.6C352.4,1659.9 355.1,1661.1 356.8,1662.9C358.4,1664.6 358.9,1667.4 360.0,1670.1C361.1,1672.8 361.9,1676.5 363.2,1679.0C364.6,1681.6 365.6,1684.6 368.1,1685.5C370.5,1686.5 375.1,1684.3 377.8,1684.7C380.5,1685.1 382.1,1687.0 384.2,1687.9C386.4,1688.9 387.8,1690.5 390.7,1690.4C393.7,1690.2 399.6,1688.6 402.0,1687.1C404.5,1685.6 404.1,1683.2 405.3,1681.5C406.5,1679.7 408.2,1678.4 409.3,1676.6C410.4,1674.9 410.0,1672.3 411.7,1671.0C413.5,1669.6 417.1,1669.3 419.8,1668.5C422.5,1667.7 425.2,1667.0 427.9,1666.1C430.6,1665.2 433.3,1663.5 436.0,1663.3C438.7,1663.2 441.7,1663.9 444.1,1665.3C446.5,1666.7 448.1,1670.1 450.6,1671.8C453.0,1673.4 455.7,1674.1 458.7,1675.0C461.6,1675.9 464.9,1677.5 468.4,1676.9C471.9,1676.4 475.9,1673.4 479.7,1671.8C483.5,1670.1 487.8,1668.3 491.0,1666.9C494.2,1665.6 496.4,1664.3 499.1,1663.7C501.8,1663.0 504.2,1663.8 507.2,1662.9C510.1,1661.9 514.9,1660.0 516.9,1658.0C518.9,1656.0 518.2,1652.8 519.3,1650.7C520.4,1648.7 521.6,1646.8 523.4,1645.9C525.1,1644.9 527.9,1644.4 529.8,1645.1C531.7,1645.7 533.1,1647.9 534.7,1649.9C536.3,1651.9 537.6,1654.9 539.5,1657.2C541.4,1659.5 543.8,1661.8 546.0,1663.7C548.2,1665.6 550.6,1667.2 552.5,1668.5C554.4,1669.9 555.3,1671.2 557.3,1671.8C559.3,1672.3 562.8,1671.0 564.6,1671.8C566.4,1672.6 568.0,1674.7 568.3,1676.6C568.6,1678.5 567.5,1681.3 566.2,1683.1C564.9,1684.8 562.6,1685.8 560.6,1687.1C558.5,1688.5 556.5,1690.0 554.1,1691.2C551.7,1692.4 547.9,1692.8 546.0,1694.4C544.1,1696.0 542.8,1698.7 542.8,1700.9C542.8,1703.0 545.1,1705.2 546.0,1707.3C546.9,1709.5 548.6,1711.7 548.4,1713.8C548.3,1716.0 547.2,1718.9 545.2,1720.3C543.2,1721.6 539.1,1721.1 536.3,1721.9C533.5,1722.7 530.4,1723.5 528.2,1725.1C526.0,1726.8 525.5,1730.3 523.4,1731.6C521.2,1733.0 518.0,1732.4 515.3,1733.2C512.6,1734.0 509.1,1734.6 507.2,1736.5C505.3,1738.3 505.3,1742.7 503.9,1744.5C502.6,1746.4 501.2,1747.5 499.1,1747.8C496.9,1748.0 493.1,1747.3 491.0,1746.2C488.9,1745.0 487.4,1741.0 486.5,1741.0C485.5,1741.0 485.0,1744.0 485.3,1746.2C485.7,1748.4 487.6,1752.2 488.6,1754.2C489.5,1756.3 489.5,1757.2 491.0,1758.3C492.5,1759.4 495.3,1759.6 497.5,1760.7C499.6,1761.8 501.8,1763.6 503.9,1764.8C506.1,1766.0 506.9,1765.2 510.4,1768.0C513.9,1770.8 520.9,1776.8 525.0,1781.7C529.0,1786.7 532.2,1792.9 534.7,1797.9C537.1,1802.9 538.0,1808.6 539.5,1811.7C541.0,1814.8 542.4,1815.1 543.6,1816.5C544.7,1818.0 544.3,1820.0 546.4,1820.3C548.4,1820.7 553.4,1818.8 556.1,1818.7C558.8,1818.6 560.4,1820.3 562.5,1819.8C564.7,1819.2 567.5,1817.3 569.0,1815.5C570.5,1813.7 570.6,1811.0 571.7,1809.0C572.8,1807.0 574.5,1805.4 575.5,1803.6C576.5,1801.8 577.4,1800.0 577.6,1798.2C577.9,1796.4 577.4,1794.4 577.1,1792.8C576.7,1791.2 576.0,1790.1 575.5,1788.5C574.9,1786.9 573.9,1784.9 573.9,1783.1C573.9,1781.3 574.5,1779.2 575.5,1777.7C576.5,1776.3 578.2,1775.1 579.8,1774.5C581.4,1773.9 583.6,1774.5 585.2,1774.0C586.8,1773.4 588.4,1772.4 589.5,1771.3C590.6,1770.1 590.6,1768.1 591.6,1767.0C592.7,1765.8 594.3,1764.9 596.0,1764.6C597.6,1764.3 599.4,1765.0 601.3,1765.3C603.3,1765.6 605.8,1765.9 607.8,1766.4C609.8,1767.0 611.7,1767.4 613.2,1768.6C614.7,1769.7 615.9,1771.7 617.0,1773.4C618.1,1775.1 618.9,1776.8 619.7,1778.8C620.5,1780.8 621.1,1783.3 621.8,1785.3C622.6,1787.3 623.1,1788.9 624.0,1790.7C624.9,1792.5 626.1,1794.4 627.2,1796.1C628.4,1797.7 630.2,1798.8 631.0,1800.4C631.8,1802.0 632.3,1804.2 632.1,1805.8C631.8,1807.4 630.9,1809.0 629.4,1810.1C627.9,1811.2 624.2,1811.0 622.9,1812.2C621.7,1813.5 622.6,1815.8 621.8,1817.6C621.1,1819.4 619.4,1821.2 618.6,1823.0C617.8,1824.8 617.0,1826.6 617.0,1828.4C617.0,1830.2 617.6,1832.5 618.6,1833.8C619.6,1835.1 621.1,1835.6 622.9,1836.0C624.7,1836.3 627.2,1835.7 629.4,1836.0C631.5,1836.2 633.9,1836.7 635.8,1837.6C637.8,1838.5 639.7,1839.8 641.2,1841.3C642.8,1842.9 644.6,1844.9 645.0,1846.7C645.5,1848.5 644.9,1850.6 643.9,1852.1C642.9,1853.7 641.0,1855.0 639.1,1855.9C637.2,1856.8 634.8,1856.7 632.6,1857.5C630.5,1858.3 628.5,1859.9 626.1,1860.8C623.8,1861.7 620.4,1861.8 618.6,1862.9C616.8,1864.0 615.6,1865.6 615.4,1867.2C615.1,1868.8 616.4,1870.8 617.0,1872.6C617.5,1874.4 618.9,1876.2 618.6,1878.0C618.3,1879.8 617.0,1882.0 615.4,1883.4C613.7,1884.8 610.7,1885.4 608.9,1886.6C607.1,1887.9 605.7,1889.3 604.6,1890.9C603.5,1892.6 603.2,1893.9 602.4,1896.3C601.6,1898.8 599.7,1904.5 599.9,1905.6C600.1,1906.6 601.8,1903.2 603.8,1902.7C605.7,1902.2 608.9,1901.6 611.5,1902.7C614.1,1903.8 616.6,1906.4 619.2,1909.4C621.8,1912.5 624.7,1917.5 626.9,1921.0C629.2,1924.5 630.4,1927.4 632.7,1930.6C634.9,1933.9 637.2,1937.9 640.4,1940.3C643.6,1942.7 649.7,1942.9 652.0,1945.1C654.2,1947.4 653.3,1950.7 653.9,1953.8C654.6,1956.8 654.2,1960.5 655.8,1963.4C657.4,1966.3 661.6,1968.1 663.6,1971.1C665.5,1974.2 667.7,1978.9 667.4,1981.7C667.1,1984.6 664.4,1986.7 661.6,1988.5C658.9,1990.3 652.9,1990.3 651.0,1992.4C649.1,1994.4 650.9,1998.1 650.1,2001.0C649.3,2003.9 647.8,2006.7 646.2,2009.7C644.6,2012.8 642.7,2017.4 640.4,2019.3C638.2,2021.3 634.9,2019.8 632.7,2021.3C630.4,2022.7 629.5,2026.3 626.9,2028.0C624.3,2029.8 620.5,2031.4 617.3,2031.9C614.1,2032.4 610.8,2031.9 607.6,2030.9C604.4,2030.0 601.2,2026.6 598.0,2026.1C594.8,2025.6 591.6,2027.4 588.3,2028.0C585.1,2028.7 581.3,2030.8 578.7,2030.0C576.1,2029.2 574.5,2025.9 572.9,2023.2C571.3,2020.5 571.3,2015.3 569.1,2013.6C566.8,2011.8 562.3,2012.0 559.4,2012.6C556.5,2013.2 554.3,2015.7 551.7,2017.4C549.1,2019.2 546.2,2020.6 544.0,2023.2C541.7,2025.8 540.1,2030.3 538.2,2032.8C536.3,2035.4 534.7,2036.7 532.4,2038.6C530.2,2040.6 527.3,2043.6 524.7,2044.4C522.1,2045.2 518.9,2044.6 517.0,2043.5C515.1,2042.3 514.4,2037.5 513.1,2037.7C511.8,2037.8 510.2,2041.8 509.3,2044.4C508.3,2047.0 509.0,2051.2 507.3,2053.1C505.7,2055.0 502.5,2056.2 499.6,2056.0C496.7,2055.8 493.2,2053.9 490.0,2052.1C486.8,2050.4 483.2,2047.5 480.3,2045.4C477.5,2043.3 475.5,2041.0 472.6,2039.6C469.7,2038.2 466.2,2037.7 463.0,2036.7C459.8,2035.7 456.1,2034.5 453.3,2033.8C450.6,2033.2 448.0,2031.7 446.6,2032.8C445.2,2034.0 445.8,2038.0 444.7,2040.6C443.5,2043.1 441.9,2046.2 439.8,2048.3C437.8,2050.4 434.4,2052.8 432.1,2053.1C429.9,2053.4 427.6,2052.0 426.3,2050.2C425.1,2048.4 424.7,2045.4 424.4,2042.5C424.1,2039.6 423.9,2036.1 424.4,2032.8C424.9,2029.6 426.7,2026.4 427.3,2023.2C428.0,2020.0 428.8,2016.8 428.3,2013.6C427.8,2010.4 425.5,2007.1 424.4,2003.9C423.3,2000.7 423.1,1996.2 421.5,1994.3C419.9,1992.4 417.5,1993.2 414.8,1992.4C412.0,1991.5 407.1,1991.1 405.1,1989.5C403.2,1987.9 402.9,1985.1 403.2,1982.7C403.5,1980.3 407.7,1976.8 407.1,1975.0C406.4,1973.2 402.2,1973.1 399.3,1972.1C396.5,1971.1 392.1,1970.7 389.7,1969.2C387.3,1967.8 385.5,1965.7 384.9,1963.4C384.2,1961.2 385.5,1958.4 385.9,1955.7C386.2,1953.0 387.1,1948.5 386.8,1947.0C386.5,1945.6 385.0,1946.1 383.9,1947.0C382.8,1948.0 381.7,1951.4 380.1,1952.8C378.5,1954.3 376.9,1954.7 374.3,1955.7C371.7,1956.7 367.4,1957.3 364.6,1958.6C361.9,1959.9 359.8,1961.3 357.9,1963.4C356.0,1965.5 354.8,1968.6 353.1,1971.1C351.3,1973.7 349.5,1976.8 347.3,1978.9C345.0,1980.9 341.8,1983.0 339.6,1983.7C337.3,1984.3 335.4,1983.8 333.8,1982.7C332.2,1981.6 331.2,1979.2 329.9,1976.9C328.6,1974.7 327.7,1971.1 326.1,1969.2C324.5,1967.3 322.2,1967.0 320.3,1965.4C318.4,1963.7 316.4,1961.3 314.5,1959.6C312.6,1957.8 311.0,1955.4 308.7,1954.7C306.5,1954.1 303.4,1955.9 301.0,1955.7C298.6,1955.5 295.7,1955.2 294.2,1953.8C292.8,1952.3 293.8,1948.8 292.3,1947.0C290.9,1945.3 288.0,1944.6 285.6,1943.2C283.2,1941.7 279.8,1940.4 277.9,1938.4C275.9,1936.3 274.3,1933.0 274.0,1930.6C273.7,1928.2 276.1,1925.8 275.9,1923.9C275.8,1922.0 274.5,1920.8 273.0,1919.1C271.6,1917.3 268.7,1915.4 267.2,1913.3C265.8,1911.2 266.1,1908.1 264.4,1906.5C262.6,1904.9 259.2,1904.8 256.6,1903.6C254.1,1902.5 251.0,1901.2 248.9,1899.8C246.8,1898.3 245.1,1896.9 244.1,1895.0C243.1,1893.0 244.1,1889.8 243.1,1888.2C242.2,1886.6 239.9,1886.8 238.3,1885.3C236.8,1883.9 234.5,1881.5 233.9,1879.5C233.2,1877.6 233.6,1875.5 234.5,1873.7C235.4,1872.0 237.2,1870.2 239.3,1868.9C241.4,1867.6 245.2,1867.6 247.0,1866.0C248.8,1864.4 249.7,1862.0 249.9,1859.3C250.1,1856.6 248.5,1851.6 248.0,1849.6C247.4,1847.7 246.7,1849.4 246.6,1847.8C246.5,1846.1 246.9,1842.1 247.4,1839.7C248.0,1837.3 248.4,1834.7 249.8,1833.2C251.3,1831.7 253.6,1831.1 256.3,1830.8C259.0,1830.5 262.5,1831.5 266.0,1831.6C269.5,1831.7 273.6,1831.1 277.3,1831.6C281.1,1832.1 284.9,1834.4 288.7,1834.8C292.4,1835.2 297.0,1834.3 300.0,1834.0C303.0,1833.8 304.7,1833.9 306.5,1833.2C308.2,1832.5 309.4,1831.6 310.5,1830.0C311.6,1828.4 311.7,1825.3 312.9,1823.5C314.1,1821.8 316.2,1820.8 317.8,1819.5C319.4,1818.1 321.8,1817.0 322.6,1815.4C323.4,1813.8 323.2,1814.1 322.6,1809.8C322.1,1805.5 320.7,1796.5 319.4,1789.6C318.1,1782.6 315.3,1773.1 314.7,1768.0Z" fill="none" stroke="#231815" stroke-width="1.2"/></g>
<path d="M510.2,1847.3C510.4,1846.1 517.7,1843.1 519.4,1841.9C521.1,1840.7 523.7,1838.2 524.8,1837.0C525.9,1835.8 527.9,1832.9 529.1,1831.6C530.4,1830.4 534.1,1827.3 535.6,1826.3C537.1,1825.2 541.3,1821.9 542.0,1822.5C542.8,1823.1 541.9,1829.9 542.4,1831.6C542.9,1833.3 546.0,1835.3 546.4,1837.0C546.8,1838.8 546.4,1844.9 545.8,1846.7C545.3,1848.6 542.7,1852.5 541.5,1853.2C540.3,1854.0 536.8,1853.7 535.6,1853.2C534.4,1852.7 532.3,1849.8 531.3,1848.9C530.3,1848.0 528.1,1845.8 527.0,1845.7C525.8,1845.5 522.6,1847.1 521.6,1847.8C520.5,1848.6 519.1,1852.2 517.8,1852.1C516.5,1852.1 510.1,1848.5 510.2,1847.3Z" fill="#fff" stroke="#231815" stroke-width="1.2"/>
<path d="M587.4,1908.5C587.9,1908.3 592.8,1910.5 594.1,1910.4C595.5,1910.3 598.3,1907.1 598.9,1907.9C599.6,1908.7 599.4,1915.2 599.5,1917.1C599.6,1919.1 600.3,1923.4 599.9,1924.3C599.5,1925.2 597.1,1925.7 596.1,1924.9C595.0,1924.0 592.0,1918.7 591.2,1917.1C590.4,1915.6 589.8,1912.4 589.3,1911.4C588.9,1910.3 586.8,1908.6 587.4,1908.5Z" fill="#fff" stroke="#231815" stroke-width="1.2"/>
<line x1="209.0" y1="1789.0" x2="1459.0" y2="1789.0" stroke="#000" stroke-width="8"/>
<clipPath id="lobeclip"><rect x="560" y="1755" width="90" height="75"/></clipPath>
<g clip-path="url(#lobeclip)"><use href="#blobfill"/></g>
<rect x="275.2" y="1768.2" width="62.8" height="41.6" fill="#333333" stroke="#333333" stroke-width="1"/>
<rect x="338.0" y="1768.2" width="208.6" height="41.6" fill="#F7931E" stroke="#231815" stroke-width="1.3"/>
<text x="306.8" y="1798.4" font-size="25" fill="#fff" font-weight="bold" text-anchor="middle" textLength="53.5" lengthAdjust="spacingAndGlyphs">AAC</text>
<text x="365.0" y="1798.4" font-size="25" textLength="155.0" lengthAdjust="spacingAndGlyphs">Target Spacer</text>
<path d="M343.3,1815.8 V1831.3 M353.7,1815.8 V1831.3 M364.1,1815.8 V1831.3 M374.6,1815.8 V1831.3 M385.0,1815.8 V1831.3 M395.4,1815.8 V1831.3 M405.8,1815.8 V1831.3 M416.2,1815.8 V1831.3 M426.7,1815.8 V1831.3 M437.1,1815.8 V1831.3 M447.5,1815.8 V1831.3 M457.9,1815.8 V1831.3 M468.3,1815.8 V1831.3 M478.8,1815.8 V1831.3 M489.2,1815.8 V1831.3 M499.6,1815.8 V1831.3 M510.0,1815.8 V1831.3 M520.4,1815.8 V1831.3 M530.9,1815.8 V1831.3 M541.3,1815.8 V1831.3 " stroke="#0071BC" stroke-width="2" fill="none"/>
<path d="M546.6,1836.5 H254.7 A12.9,12.9 0 0 0 254.7,1862.3 H314 A13.2,13.2 0 0 1 314,1888.7 H262.8" fill="none" stroke="#1B75BC" stroke-width="2"/>
<text x="338.0" y="1907.6" font-size="33" textLength="104.5" lengthAdjust="spacingAndGlyphs">sgRNA</text>
<text x="229.2" y="1624.6" font-size="30.5" textLength="415.5" lengthAdjust="spacingAndGlyphs">dRdCas12n or N-RdCas12n</text>
<path d="M604.8,1765.8 C655,1650 770,1465.2 897.4,1465.2 C965,1465.2 1003,1525 1026.6,1591" fill="none" stroke="#000" stroke-width="4"/>
<text x="898.3" y="1514.6" font-size="32" text-anchor="middle" textLength="78.0" lengthAdjust="spacingAndGlyphs">linker</text>
<text x="897.4" y="1545.1" font-size="24.5" text-anchor="middle" textLength="72.0" lengthAdjust="spacingAndGlyphs">(32aa)</text>
<path d="M555,1765 V1755.3 H882.3 V1765" fill="none" stroke="#231815" stroke-width="2"/>
<text x="648.0" y="1743.0" font-size="24.5" textLength="150.0" lengthAdjust="spacingAndGlyphs">40-nt spacing</text>
<path d="M905.8,1772.4C904.9,1766.2 900.7,1748.2 900.4,1735.2C900.2,1722.3 900.9,1708.7 904.5,1694.8C908.1,1680.9 913.7,1664.7 922.0,1651.7C930.3,1638.6 942.2,1625.8 954.3,1616.6C966.5,1607.4 982.7,1600.7 994.8,1596.4C1006.9,1592.1 1017.2,1591.2 1027.1,1591.0C1037.0,1590.8 1045.1,1591.7 1054.1,1595.0C1063.1,1598.4 1073.4,1604.0 1081.0,1611.2C1088.7,1618.4 1095.5,1627.8 1099.9,1638.2C1104.3,1648.5 1106.8,1661.1 1107.5,1673.2C1108.1,1685.3 1106.6,1698.8 1104.0,1711.0C1101.3,1723.1 1096.5,1735.9 1091.8,1746.0C1087.1,1756.1 1078.3,1767.3 1075.7,1771.6 L1004.2,1709.6 Z" fill="#DCE6F2" stroke="#231815" stroke-width="2" stroke-linejoin="round"/>
<text x="1020.8" y="1654.3" font-size="32.5" text-anchor="middle" textLength="126.0" lengthAdjust="spacingAndGlyphs">RNAP ω</text>
<text x="1020.7" y="1693.4" font-size="32.5" text-anchor="middle" textLength="90.5" lengthAdjust="spacingAndGlyphs">(I13N)</text>
<rect x="888.0" y="1773.0" width="34.0" height="32.8" fill="#F7C08F" stroke="#231815" stroke-width="2"/>
<rect x="1058.1" y="1773.0" width="33.4" height="32.8" fill="#F7C08F" stroke="#231815" stroke-width="2"/>
<text x="905.0" y="1832.0" font-size="24.5" text-anchor="middle" textLength="34.5" lengthAdjust="spacingAndGlyphs">-35</text>
<text x="1075.0" y="1832.0" font-size="24.5" text-anchor="middle" textLength="34.5" lengthAdjust="spacingAndGlyphs">-10</text>
<path d="M905,1843 V1854.5 H1074.8 V1843" fill="none" stroke="#231815" stroke-width="2"/>
<text x="835.0" y="1896.3" font-size="33" textLength="309.5" lengthAdjust="spacingAndGlyphs">Minimal <tspan font-style="italic">lac</tspan> promoter</text>
<path d="M1130.9,1789 V1692.1 H1206 V1712.3 H1151.1 V1789 Z" fill="#000"/>
<polygon points="1205.0,1676.5 1249.5,1702.5 1205.0,1728.5" fill="#000"/>
<polygon points="1187.5,1751.4 1388.9,1751.4 1418.0,1789.1 1388.9,1826.9 1187.5,1826.9" fill="#F3F7C5" stroke="#231815" stroke-width="2"/>
<text x="1207.5" y="1802.6" font-size="41" textLength="177.5" lengthAdjust="spacingAndGlyphs">luciferase</text>
</g>
<g id="panel_c">
<text x="1750.0" y="617.0" font-size="62" fill="#231815" font-weight="bold">c</text>
<path d="M2051.1,2010.6 V1752.6 H2086.8 V1815.2" fill="none" stroke="#000" stroke-width="1.6" stroke-dasharray="5.2 4.3"/>
<text x="2052.6" y="1736.4" font-size="24.5" textLength="61.5" lengthAdjust="spacingAndGlyphs">×12.0</text>
<path d="M2122.5,2012.3 V1579.6 H2158.2 V1634.1" fill="none" stroke="#000" stroke-width="1.6" stroke-dasharray="5.2 4.3"/>
<text x="2124.0" y="1563.4" font-size="24.5" textLength="61.5" lengthAdjust="spacingAndGlyphs">×21.9</text>
<path d="M2229.7,2015.5 V1154.2 H2265.3 V1196.2" fill="none" stroke="#000" stroke-width="1.6" stroke-dasharray="5.2 4.3"/>
<text x="2231.2" y="1138.0" font-size="24.5" textLength="61.5" lengthAdjust="spacingAndGlyphs">×46.2</text>
<path d="M2301.1,2012.7 V1878.7 H2336.8 V1944.1" fill="none" stroke="#000" stroke-width="1.6" stroke-dasharray="5.2 4.3"/>
<text x="2302.6" y="1862.5" font-size="24.5" textLength="61.5" lengthAdjust="spacingAndGlyphs">×3.95</text>
<path d="M2408.2,2007.4 V1878.7 H2443.9 V1936.8" fill="none" stroke="#000" stroke-width="1.6" stroke-dasharray="5.2 4.3"/>
<text x="2409.7" y="1862.5" font-size="24.5" textLength="61.5" lengthAdjust="spacingAndGlyphs">×3.73</text>
<path d="M2479.6,2012.3 V1910.2 H2515.3 V1965.1" fill="none" stroke="#000" stroke-width="1.6" stroke-dasharray="5.2 4.3"/>
<text x="2481.1" y="1894.0" font-size="24.5" textLength="61.5" lengthAdjust="spacingAndGlyphs">×3.04</text>
<path d="M2586.8,2016.9 V1311.4 H2622.4 V1354.0" fill="none" stroke="#000" stroke-width="1.6" stroke-dasharray="5.2 4.3"/>
<text x="2588.2" y="1295.2" font-size="24.5" textLength="61.5" lengthAdjust="spacingAndGlyphs">×40.5</text>
<path d="M2658.2,2021.0 V1878.7 H2693.8 V1930.8" fill="none" stroke="#000" stroke-width="1.6" stroke-dasharray="5.2 4.3"/>
<text x="2659.7" y="1862.5" font-size="24.5" textLength="61.5" lengthAdjust="spacingAndGlyphs">×6.53</text>
<path d="M2765.3,2018.6 V1579.6 H2801.0 V1639.0" fill="none" stroke="#000" stroke-width="1.6" stroke-dasharray="5.2 4.3"/>
<text x="2766.8" y="1563.4" font-size="24.5" textLength="61.5" lengthAdjust="spacingAndGlyphs">×27.8</text>
<path d="M2836.7,2021.4 V1910.2 H2872.4 V1972.8" fill="none" stroke="#000" stroke-width="1.6" stroke-dasharray="5.2 4.3"/>
<text x="2838.2" y="1894.0" font-size="24.5" textLength="61.5" lengthAdjust="spacingAndGlyphs">×5.34</text>
<path d="M2943.8,2016.9 V1800.2 H2979.5 V1852.3" fill="none" stroke="#000" stroke-width="1.6" stroke-dasharray="5.2 4.3"/>
<text x="2945.3" y="1784.0" font-size="24.5" textLength="61.5" lengthAdjust="spacingAndGlyphs">×10.7</text>
<path d="M3015.2,2022.8 V1910.2 H3050.9 V1961.3" fill="none" stroke="#000" stroke-width="1.6" stroke-dasharray="5.2 4.3"/>
<text x="3016.8" y="1894.0" font-size="24.5" textLength="61.5" lengthAdjust="spacingAndGlyphs">×6.91</text>
<path d="M3122.4,2021.0 V1595.0 H3158.1 V1641.8" fill="none" stroke="#000" stroke-width="1.6" stroke-dasharray="5.2 4.3"/>
<text x="3123.9" y="1578.8" font-size="24.5" textLength="61.5" lengthAdjust="spacingAndGlyphs">×32.8</text>
<path d="M3193.8,2015.1 V1910.2 H3229.5 V1977.0" fill="none" stroke="#000" stroke-width="1.6" stroke-dasharray="5.2 4.3"/>
<text x="3195.3" y="1894.0" font-size="24.5" textLength="61.5" lengthAdjust="spacingAndGlyphs">×3.37</text>
<path d="M3300.9,2022.1 V1343.3 H3336.6 V1381.4" fill="none" stroke="#000" stroke-width="1.6" stroke-dasharray="5.2 4.3"/>
<text x="3302.4" y="1327.1" font-size="24.5" textLength="61.5" lengthAdjust="spacingAndGlyphs">×67.5</text>
<path d="M3372.3,2016.9 V729.3 H3408.0 V761.0" fill="none" stroke="#000" stroke-width="1.6" stroke-dasharray="5.2 4.3"/>
<text x="3373.8" y="713.1" font-size="24.5" textLength="61.5" lengthAdjust="spacingAndGlyphs">×85.3</text>
<path d="M3479.5,2025.0 V1705.7 H3515.2 V1741.6" fill="none" stroke="#000" stroke-width="1.6" stroke-dasharray="5.2 4.3"/>
<text x="3481.0" y="1689.5" font-size="24.5" textLength="61.5" lengthAdjust="spacingAndGlyphs">×30.4</text>
<path d="M3550.9,2027.5 V1910.2 H3586.6 V1984.3" fill="none" stroke="#000" stroke-width="1.6" stroke-dasharray="5.2 4.3"/>
<text x="3552.4" y="1894.0" font-size="24.5" textLength="61.5" lengthAdjust="spacingAndGlyphs">×6.51</text>
<rect x="2034.2" y="2022.7" width="33.9" height="15.8" fill="#D3D3D3"/><svg x="2034.2" y="2022.7" width="33.9" height="15.8" viewBox="0 0 33.9 15.8"><path d="M-65.5,15.8 l19.8,-19.8 M-41.0,15.8 l19.8,-19.8 M-16.5,15.8 l19.8,-19.8 M8.0,15.8 l19.8,-19.8 M32.5,15.8 l19.8,-19.8 " stroke="#000" stroke-width="2" fill="none"/></svg><rect x="2034.2" y="2022.7" width="33.9" height="15.8" fill="none" stroke="#000" stroke-width="2"/>
<rect x="2069.8" y="1843.0" width="33.9" height="195.5" fill="#D3D3D3" stroke="#000" stroke-width="2"/>
<rect x="2105.6" y="2023.4" width="33.9" height="15.1" fill="#2792AF"/><svg x="2105.6" y="2023.4" width="33.9" height="15.1" viewBox="0 0 33.9 15.1"><path d="M-65.5,15.1 l19.1,-19.1 M-41.0,15.1 l19.1,-19.1 M-16.5,15.1 l19.1,-19.1 M8.0,15.1 l19.1,-19.1 M32.5,15.1 l19.1,-19.1 " stroke="#000" stroke-width="2" fill="none"/></svg><rect x="2105.6" y="2023.4" width="33.9" height="15.1" fill="none" stroke="#000" stroke-width="2"/>
<rect x="2141.2" y="1671.0" width="33.9" height="367.5" fill="#2792AF" stroke="#000" stroke-width="2"/>
<rect x="2212.7" y="2022.7" width="33.9" height="15.8" fill="#D3D3D3"/><svg x="2212.7" y="2022.7" width="33.9" height="15.8" viewBox="0 0 33.9 15.8"><path d="M-65.5,15.8 l19.8,-19.8 M-41.0,15.8 l19.8,-19.8 M-16.5,15.8 l19.8,-19.8 M8.0,15.8 l19.8,-19.8 M32.5,15.8 l19.8,-19.8 " stroke="#000" stroke-width="2" fill="none"/></svg><rect x="2212.7" y="2022.7" width="33.9" height="15.8" fill="none" stroke="#000" stroke-width="2"/>
<rect x="2248.4" y="1247.4" width="33.9" height="791.1" fill="#D3D3D3" stroke="#000" stroke-width="2"/>
<rect x="2284.1" y="2022.7" width="33.9" height="15.8" fill="#2792AF"/><svg x="2284.1" y="2022.7" width="33.9" height="15.8" viewBox="0 0 33.9 15.8"><path d="M-65.5,15.8 l19.8,-19.8 M-41.0,15.8 l19.8,-19.8 M-16.5,15.8 l19.8,-19.8 M8.0,15.8 l19.8,-19.8 M32.5,15.8 l19.8,-19.8 " stroke="#000" stroke-width="2" fill="none"/></svg><rect x="2284.1" y="2022.7" width="33.9" height="15.8" fill="none" stroke="#000" stroke-width="2"/>
<rect x="2319.8" y="1964.5" width="33.9" height="74.0" fill="#2792AF" stroke="#000" stroke-width="2"/>
<rect x="2391.2" y="2013.6" width="33.9" height="24.9" fill="#D3D3D3"/><svg x="2391.2" y="2013.6" width="33.9" height="24.9" viewBox="0 0 33.9 24.9"><path d="M-65.5,24.9 l28.9,-28.9 M-41.0,24.9 l28.9,-28.9 M-16.5,24.9 l28.9,-28.9 M8.0,24.9 l28.9,-28.9 M32.5,24.9 l28.9,-28.9 " stroke="#000" stroke-width="2" fill="none"/></svg><rect x="2391.2" y="2013.6" width="33.9" height="24.9" fill="none" stroke="#000" stroke-width="2"/>
<rect x="2426.9" y="1949.1" width="33.9" height="89.4" fill="#D3D3D3" stroke="#000" stroke-width="2"/>
<rect x="2462.7" y="2020.6" width="33.9" height="17.9" fill="#2792AF"/><svg x="2462.7" y="2020.6" width="33.9" height="17.9" viewBox="0 0 33.9 17.9"><path d="M-65.5,17.9 l21.9,-21.9 M-41.0,17.9 l21.9,-21.9 M-16.5,17.9 l21.9,-21.9 M8.0,17.9 l21.9,-21.9 M32.5,17.9 l21.9,-21.9 " stroke="#000" stroke-width="2" fill="none"/></svg><rect x="2462.7" y="2020.6" width="33.9" height="17.9" fill="none" stroke="#000" stroke-width="2"/>
<rect x="2498.3" y="1980.3" width="33.9" height="58.2" fill="#2792AF" stroke="#000" stroke-width="2"/>
<rect x="2569.8" y="2024.4" width="33.9" height="14.1" fill="#D3D3D3"/><svg x="2569.8" y="2024.4" width="33.9" height="14.1" viewBox="0 0 33.9 14.1"><path d="M-65.5,14.1 l18.1,-18.1 M-41.0,14.1 l18.1,-18.1 M-16.5,14.1 l18.1,-18.1 M8.0,14.1 l18.1,-18.1 M32.5,14.1 l18.1,-18.1 " stroke="#000" stroke-width="2" fill="none"/></svg><rect x="2569.8" y="2024.4" width="33.9" height="14.1" fill="none" stroke="#000" stroke-width="2"/>
<rect x="2605.5" y="1427.1" width="33.9" height="611.4" fill="#D3D3D3" stroke="#000" stroke-width="2"/>
<rect x="2641.2" y="2025.0" width="33.9" height="13.5" fill="#2792AF"/><svg x="2641.2" y="2025.0" width="33.9" height="13.5" viewBox="0 0 33.9 13.5"><path d="M-65.5,13.5 l17.5,-17.5 M-41.0,13.5 l17.5,-17.5 M-16.5,13.5 l17.5,-17.5 M8.0,13.5 l17.5,-17.5 M32.5,13.5 l17.5,-17.5 " stroke="#000" stroke-width="2" fill="none"/></svg><rect x="2641.2" y="2025.0" width="33.9" height="13.5" fill="none" stroke="#000" stroke-width="2"/>
<rect x="2676.9" y="1952.6" width="33.9" height="85.9" fill="#2792AF" stroke="#000" stroke-width="2"/>
<rect x="2748.4" y="2025.1" width="33.9" height="13.4" fill="#D3D3D3"/><svg x="2748.4" y="2025.1" width="33.9" height="13.4" viewBox="0 0 33.9 13.4"><path d="M-65.5,13.4 l17.4,-17.4 M-41.0,13.4 l17.4,-17.4 M-16.5,13.4 l17.4,-17.4 M8.0,13.4 l17.4,-17.4 M32.5,13.4 l17.4,-17.4 " stroke="#000" stroke-width="2" fill="none"/></svg><rect x="2748.4" y="2025.1" width="33.9" height="13.4" fill="none" stroke="#000" stroke-width="2"/>
<rect x="2784.1" y="1651.4" width="33.9" height="387.1" fill="#D3D3D3" stroke="#000" stroke-width="2"/>
<rect x="2819.8" y="2028.6" width="33.9" height="9.9" fill="#2792AF"/><svg x="2819.8" y="2028.6" width="33.9" height="9.9" viewBox="0 0 33.9 9.9"><path d="M-65.5,9.9 l13.9,-13.9 M-41.0,9.9 l13.9,-13.9 M-16.5,9.9 l13.9,-13.9 M8.0,9.9 l13.9,-13.9 M32.5,9.9 l13.9,-13.9 " stroke="#000" stroke-width="2" fill="none"/></svg><rect x="2819.8" y="2028.6" width="33.9" height="9.9" fill="none" stroke="#000" stroke-width="2"/>
<rect x="2855.5" y="1981.3" width="33.9" height="57.2" fill="#2792AF" stroke="#000" stroke-width="2"/>
<rect x="2926.9" y="2023.4" width="33.9" height="15.1" fill="#D3D3D3"/><svg x="2926.9" y="2023.4" width="33.9" height="15.1" viewBox="0 0 33.9 15.1"><path d="M-65.5,15.1 l19.1,-19.1 M-41.0,15.1 l19.1,-19.1 M-16.5,15.1 l19.1,-19.1 M8.0,15.1 l19.1,-19.1 M32.5,15.1 l19.1,-19.1 " stroke="#000" stroke-width="2" fill="none"/></svg><rect x="2926.9" y="2023.4" width="33.9" height="15.1" fill="none" stroke="#000" stroke-width="2"/>
<rect x="2962.6" y="1878.7" width="33.9" height="159.8" fill="#D3D3D3" stroke="#000" stroke-width="2"/>
<rect x="2998.3" y="2028.6" width="33.9" height="9.9" fill="#2792AF"/><svg x="2998.3" y="2028.6" width="33.9" height="9.9" viewBox="0 0 33.9 9.9"><path d="M-65.5,9.9 l13.9,-13.9 M-41.0,9.9 l13.9,-13.9 M-16.5,9.9 l13.9,-13.9 M8.0,9.9 l13.9,-13.9 M32.5,9.9 l13.9,-13.9 " stroke="#000" stroke-width="2" fill="none"/></svg><rect x="2998.3" y="2028.6" width="33.9" height="9.9" fill="none" stroke="#000" stroke-width="2"/>
<rect x="3034.0" y="1974.3" width="33.9" height="64.2" fill="#2792AF" stroke="#000" stroke-width="2"/>
<rect x="3105.5" y="2027.9" width="33.9" height="10.6" fill="#D3D3D3"/><svg x="3105.5" y="2027.9" width="33.9" height="10.6" viewBox="0 0 33.9 10.6"><path d="M-65.5,10.6 l14.6,-14.6 M-41.0,10.6 l14.6,-14.6 M-16.5,10.6 l14.6,-14.6 M8.0,10.6 l14.6,-14.6 M32.5,10.6 l14.6,-14.6 " stroke="#000" stroke-width="2" fill="none"/></svg><rect x="3105.5" y="2027.9" width="33.9" height="10.6" fill="none" stroke="#000" stroke-width="2"/>
<rect x="3141.2" y="1662.6" width="33.9" height="375.9" fill="#D3D3D3" stroke="#000" stroke-width="2"/>
<rect x="3176.9" y="2024.4" width="33.9" height="14.1" fill="#2792AF"/><svg x="3176.9" y="2024.4" width="33.9" height="14.1" viewBox="0 0 33.9 14.1"><path d="M-65.5,14.1 l18.1,-18.1 M-41.0,14.1 l18.1,-18.1 M-16.5,14.1 l18.1,-18.1 M8.0,14.1 l18.1,-18.1 M32.5,14.1 l18.1,-18.1 " stroke="#000" stroke-width="2" fill="none"/></svg><rect x="3176.9" y="2024.4" width="33.9" height="14.1" fill="none" stroke="#000" stroke-width="2"/>
<rect x="3212.6" y="1986.6" width="33.9" height="51.9" fill="#2792AF" stroke="#000" stroke-width="2"/>
<rect x="3284.0" y="2028.0" width="33.9" height="10.5" fill="#D3D3D3"/><svg x="3284.0" y="2028.0" width="33.9" height="10.5" viewBox="0 0 33.9 10.5"><path d="M-65.5,10.5 l14.5,-14.5 M-41.0,10.5 l14.5,-14.5 M-16.5,10.5 l14.5,-14.5 M8.0,10.5 l14.5,-14.5 M32.5,10.5 l14.5,-14.5 " stroke="#000" stroke-width="2" fill="none"/></svg><rect x="3284.0" y="2028.0" width="33.9" height="10.5" fill="none" stroke="#000" stroke-width="2"/>
<rect x="3319.7" y="1410.9" width="33.9" height="627.6" fill="#D3D3D3" stroke="#000" stroke-width="2"/>
<rect x="3355.4" y="2025.0" width="33.9" height="13.5" fill="#2792AF"/><svg x="3355.4" y="2025.0" width="33.9" height="13.5" viewBox="0 0 33.9 13.5"><path d="M-65.5,13.5 l17.5,-17.5 M-41.0,13.5 l17.5,-17.5 M-16.5,13.5 l17.5,-17.5 M8.0,13.5 l17.5,-17.5 M32.5,13.5 l17.5,-17.5 " stroke="#000" stroke-width="2" fill="none"/></svg><rect x="3355.4" y="2025.0" width="33.9" height="13.5" fill="none" stroke="#000" stroke-width="2"/>
<rect x="3391.1" y="797.2" width="33.9" height="1241.3" fill="#2792AF" stroke="#000" stroke-width="2"/>
<rect x="3462.6" y="2030.5" width="33.9" height="8.0" fill="#D3D3D3"/><svg x="3462.6" y="2030.5" width="33.9" height="8.0" viewBox="0 0 33.9 8.0"><path d="M-65.5,8.0 l12.0,-12.0 M-41.0,8.0 l12.0,-12.0 M-16.5,8.0 l12.0,-12.0 M8.0,8.0 l12.0,-12.0 M32.5,8.0 l12.0,-12.0 " stroke="#000" stroke-width="2" fill="none"/></svg><rect x="3462.6" y="2030.5" width="33.9" height="8.0" fill="none" stroke="#000" stroke-width="2"/>
<rect x="3498.2" y="1787.8" width="33.9" height="250.7" fill="#D3D3D3" stroke="#000" stroke-width="2"/>
<rect x="3534.0" y="2033.3" width="33.9" height="5.2" fill="#2792AF"/><svg x="3534.0" y="2033.3" width="33.9" height="5.2" viewBox="0 0 33.9 5.2"><path d="M-65.5,5.2 l9.2,-9.2 M-41.0,5.2 l9.2,-9.2 M-16.5,5.2 l9.2,-9.2 M8.0,5.2 l9.2,-9.2 M32.5,5.2 l9.2,-9.2 " stroke="#000" stroke-width="2" fill="none"/></svg><rect x="3534.0" y="2033.3" width="33.9" height="5.2" fill="none" stroke="#000" stroke-width="2"/>
<rect x="3569.7" y="1998.8" width="33.9" height="39.7" fill="#2792AF" stroke="#000" stroke-width="2"/>
<path d="M2051.1,2013.6 V2028.6 M2042.6,2013.6 H2059.6 M2042.6,2028.6 H2059.6" stroke="#000" stroke-width="2" fill="none"/>
<path d="M2086.8,1821.3 V1861.5 M2078.3,1821.3 H2095.3 M2078.3,1861.5 H2095.3" stroke="#000" stroke-width="2" fill="none"/>
<path d="M2122.5,2016.4 V2026.2 M2114.0,2016.4 H2131.0 M2114.0,2026.2 H2131.0" stroke="#000" stroke-width="2" fill="none"/>
<path d="M2158.2,1642.6 V1697.6 M2149.7,1642.6 H2166.7 M2149.7,1697.6 H2166.7" stroke="#000" stroke-width="2" fill="none"/>
<path d="M2229.7,2019.5 V2024.5 M2221.2,2019.5 H2238.2 M2221.2,2024.5 H2238.2" stroke="#000" stroke-width="2" fill="none"/>
<path d="M2265.3,1207.0 V1286.0 M2256.8,1207.0 H2273.8 M2256.8,1286.0 H2273.8" stroke="#000" stroke-width="2" fill="none"/>
<path d="M2301.1,2018.5 V2024.5 M2292.6,2018.5 H2309.6 M2292.6,2024.5 H2309.6" stroke="#000" stroke-width="2" fill="none"/>
<path d="M2336.8,1949.8 V1976.8 M2328.2,1949.8 H2345.2 M2328.2,1976.8 H2345.2" stroke="#000" stroke-width="2" fill="none"/>
<path d="M2408.2,2010.5 V2016.0 M2399.7,2010.5 H2416.7 M2399.7,2016.0 H2416.7" stroke="#000" stroke-width="2" fill="none"/>
<path d="M2443.9,1942.8 V1953.3 M2435.4,1942.8 H2452.4 M2435.4,1953.3 H2452.4" stroke="#000" stroke-width="2" fill="none"/>
<path d="M2479.6,2016.5 V2023.0 M2471.1,2016.5 H2488.1 M2471.1,2023.0 H2488.1" stroke="#000" stroke-width="2" fill="none"/>
<path d="M2515.3,1970.8 V1988.3 M2506.8,1970.8 H2523.8 M2506.8,1988.3 H2523.8" stroke="#000" stroke-width="2" fill="none"/>
<path d="M2586.8,2021.0 V2026.5 M2578.2,2021.0 H2595.2 M2578.2,2026.5 H2595.2" stroke="#000" stroke-width="2" fill="none"/>
<path d="M2622.4,1366.7 V1485.7 M2613.9,1366.7 H2630.9 M2613.9,1485.7 H2630.9" stroke="#000" stroke-width="2" fill="none"/>
<path d="M2658.2,2024.0 V2026.0 M2649.7,2024.0 H2666.7 M2649.7,2026.0 H2666.7" stroke="#000" stroke-width="2" fill="none"/>
<path d="M2693.8,1937.5 V1965.6 M2685.3,1937.5 H2702.3 M2685.3,1965.6 H2702.3" stroke="#000" stroke-width="2" fill="none"/>
<path d="M2765.3,2022.0 V2027.0 M2756.8,2022.0 H2773.8 M2756.8,2027.0 H2773.8" stroke="#000" stroke-width="2" fill="none"/>
<path d="M2801.0,1645.0 V1652.8 M2792.5,1645.0 H2809.5 M2792.5,1652.8 H2809.5" stroke="#000" stroke-width="2" fill="none"/>
<path d="M2836.7,2025.0 V2031.0 M2828.2,2025.0 H2845.2 M2828.2,2031.0 H2845.2" stroke="#000" stroke-width="2" fill="none"/>
<path d="M2872.4,1978.0 V1983.0 M2863.9,1978.0 H2880.9 M2863.9,1983.0 H2880.9" stroke="#000" stroke-width="2" fill="none"/>
<path d="M2943.8,2020.0 V2026.0 M2935.3,2020.0 H2952.3 M2935.3,2026.0 H2952.3" stroke="#000" stroke-width="2" fill="none"/>
<path d="M2979.5,1857.3 V1899.0 M2971.0,1857.3 H2988.0 M2971.0,1899.0 H2988.0" stroke="#000" stroke-width="2" fill="none"/>
<path d="M3015.2,2026.0 V2031.0 M3006.8,2026.0 H3023.8 M3006.8,2031.0 H3023.8" stroke="#000" stroke-width="2" fill="none"/>
<path d="M3050.9,1966.3 V1980.3 M3042.4,1966.3 H3059.4 M3042.4,1980.3 H3059.4" stroke="#000" stroke-width="2" fill="none"/>
<path d="M3122.4,2024.0 V2031.0 M3113.9,2024.0 H3130.9 M3113.9,2031.0 H3130.9" stroke="#000" stroke-width="2" fill="none"/>
<path d="M3158.1,1649.6 V1674.9 M3149.6,1649.6 H3166.6 M3149.6,1674.9 H3166.6" stroke="#000" stroke-width="2" fill="none"/>
<path d="M3193.8,2020.0 V2028.0 M3185.3,2020.0 H3202.3 M3185.3,2028.0 H3202.3" stroke="#000" stroke-width="2" fill="none"/>
<path d="M3229.5,1983.5 V1988.5 M3221.0,1983.5 H3238.0 M3221.0,1988.5 H3238.0" stroke="#000" stroke-width="2" fill="none"/>
<path d="M3300.9,2026.0 V2030.5 M3292.4,2026.0 H3309.4 M3292.4,2030.5 H3309.4" stroke="#000" stroke-width="2" fill="none"/>
<path d="M3336.6,1386.4 V1432.6 M3328.1,1386.4 H3345.1 M3328.1,1432.6 H3345.1" stroke="#000" stroke-width="2" fill="none"/>
<path d="M3372.3,2021.0 V2028.0 M3363.8,2021.0 H3380.8 M3363.8,2028.0 H3380.8" stroke="#000" stroke-width="2" fill="none"/>
<path d="M3408.0,769.2 V823.2 M3399.5,769.2 H3416.5 M3399.5,823.2 H3416.5" stroke="#000" stroke-width="2" fill="none"/>
<path d="M3479.5,2028.5 V2032.0 M3471.0,2028.5 H3488.0 M3471.0,2032.0 H3488.0" stroke="#000" stroke-width="2" fill="none"/>
<path d="M3515.2,1751.9 V1821.9 M3506.7,1751.9 H3523.7 M3506.7,1821.9 H3523.7" stroke="#000" stroke-width="2" fill="none"/>
<path d="M3550.9,2031.5 V2034.5 M3542.4,2031.5 H3559.4 M3542.4,2034.5 H3559.4" stroke="#000" stroke-width="2" fill="none"/>
<path d="M3586.6,1989.3 V2007.6 M3578.1,1989.3 H3595.1 M3578.1,2007.6 H3595.1" stroke="#000" stroke-width="2" fill="none"/>
<g fill="#000"><circle cx="2051.1" cy="2017.1" r="4.9"/><circle cx="2064.1" cy="2016.4" r="4.9"/><circle cx="2051.1" cy="2031.4" r="4.9"/><circle cx="2086.9" cy="1820.2" r="4.9"/><circle cx="2086.9" cy="1847.2" r="4.9"/><circle cx="2086.9" cy="1858.7" r="4.9"/><circle cx="2122.6" cy="2015.3" r="4.9"/><circle cx="2109.6" cy="2026.2" r="4.9"/><circle cx="2135.9" cy="2022.7" r="4.9"/><circle cx="2158.0" cy="1639.1" r="4.9"/><circle cx="2144.7" cy="1689.9" r="4.9"/><circle cx="2170.9" cy="1682.9" r="4.9"/><circle cx="2216.5" cy="2023.4" r="4.9"/><circle cx="2229.4" cy="2018.5" r="4.9"/><circle cx="2242.7" cy="2020.6" r="4.9"/><circle cx="2265.5" cy="1201.2" r="4.9"/><circle cx="2252.0" cy="1271.7" r="4.9"/><circle cx="2278.6" cy="1266.0" r="4.9"/><circle cx="2287.2" cy="2022.7" r="4.9"/><circle cx="2301.2" cy="2015.7" r="4.9"/><circle cx="2314.2" cy="2018.5" r="4.9"/><circle cx="2337.0" cy="1949.1" r="4.9"/><circle cx="2337.0" cy="1964.9" r="4.9"/><circle cx="2337.0" cy="1976.1" r="4.9"/><circle cx="2395.8" cy="2015.3" r="4.9"/><circle cx="2408.7" cy="2010.4" r="4.9"/><circle cx="2421.3" cy="2015.3" r="4.9"/><circle cx="2430.8" cy="1952.6" r="4.9"/><circle cx="2443.7" cy="1941.8" r="4.9"/><circle cx="2457.1" cy="1948.1" r="4.9"/><circle cx="2466.5" cy="2021.6" r="4.9"/><circle cx="2479.8" cy="2015.3" r="4.9"/><circle cx="2492.8" cy="2019.9" r="4.9"/><circle cx="2502.6" cy="1987.6" r="4.9"/><circle cx="2515.9" cy="1970.1" r="4.9"/><circle cx="2528.9" cy="1981.3" r="4.9"/><circle cx="2573.7" cy="2025.1" r="4.9"/><circle cx="2586.7" cy="2019.9" r="4.9"/><circle cx="2600.0" cy="2024.4" r="4.9"/><circle cx="2622.0" cy="1359.0" r="4.9"/><circle cx="2622.0" cy="1446.4" r="4.9"/><circle cx="2622.0" cy="1473.0" r="4.9"/><circle cx="2645.1" cy="2025.8" r="4.9"/><circle cx="2658.5" cy="2024.4" r="4.9"/><circle cx="2671.4" cy="2024.4" r="4.9"/><circle cx="2680.5" cy="1960.3" r="4.9"/><circle cx="2693.5" cy="1935.8" r="4.9"/><circle cx="2706.4" cy="1956.8" r="4.9"/><circle cx="2751.5" cy="2026.2" r="4.9"/><circle cx="2764.8" cy="2021.6" r="4.9"/><circle cx="2778.5" cy="2023.4" r="4.9"/><circle cx="2788.3" cy="1651.4" r="4.9"/><circle cx="2801.3" cy="1644.0" r="4.9"/><circle cx="2813.9" cy="1649.6" r="4.9"/><circle cx="2823.3" cy="2031.4" r="4.9"/><circle cx="2837.3" cy="2024.4" r="4.9"/><circle cx="2849.6" cy="2026.2" r="4.9"/><circle cx="2859.4" cy="1983.1" r="4.9"/><circle cx="2872.4" cy="1977.8" r="4.9"/><circle cx="2885.7" cy="1979.6" r="4.9"/><circle cx="2930.2" cy="2026.2" r="4.9"/><circle cx="2944.2" cy="2019.9" r="4.9"/><circle cx="2957.5" cy="2023.4" r="4.9"/><circle cx="2979.2" cy="1859.4" r="4.9"/><circle cx="2979.2" cy="1873.5" r="4.9"/><circle cx="2979.2" cy="1900.1" r="4.9"/><circle cx="3002.0" cy="2031.4" r="4.9"/><circle cx="3015.3" cy="2025.8" r="4.9"/><circle cx="3028.2" cy="2027.9" r="4.9"/><circle cx="3042.2" cy="1970.1" r="4.9"/><circle cx="3059.8" cy="1966.6" r="4.9"/><circle cx="3051.0" cy="1982.0" r="4.9"/><circle cx="3109.1" cy="2031.4" r="4.9"/><circle cx="3122.7" cy="2024.4" r="4.9"/><circle cx="3135.3" cy="2025.1" r="4.9"/><circle cx="3157.8" cy="1646.8" r="4.9"/><circle cx="3144.8" cy="1672.4" r="4.9"/><circle cx="3171.1" cy="1667.1" r="4.9"/><circle cx="3180.5" cy="2025.8" r="4.9"/><circle cx="3193.8" cy="2018.1" r="4.9"/><circle cx="3206.8" cy="2024.4" r="4.9"/><circle cx="3216.6" cy="1987.3" r="4.9"/><circle cx="3229.6" cy="1982.0" r="4.9"/><circle cx="3242.2" cy="1985.5" r="4.9"/><circle cx="3287.4" cy="2030.4" r="4.9"/><circle cx="3300.7" cy="2025.1" r="4.9"/><circle cx="3314.0" cy="2028.6" r="4.9"/><circle cx="3336.3" cy="1391.3" r="4.9"/><circle cx="3336.3" cy="1401.8" r="4.9"/><circle cx="3336.3" cy="1436.1" r="4.9"/><circle cx="3359.2" cy="2026.9" r="4.9"/><circle cx="3372.5" cy="2019.9" r="4.9"/><circle cx="3385.4" cy="2023.4" r="4.9"/><circle cx="3408.0" cy="766.0" r="4.9"/><circle cx="3408.0" cy="806.0" r="4.9"/><circle cx="3408.0" cy="818.5" r="4.9"/><circle cx="3466.3" cy="2032.3" r="4.9"/><circle cx="3480.0" cy="2028.0" r="4.9"/><circle cx="3493.4" cy="2029.4" r="4.9"/><circle cx="3515.2" cy="1746.6" r="4.9"/><circle cx="3502.2" cy="1808.9" r="4.9"/><circle cx="3528.6" cy="1804.3" r="4.9"/><circle cx="3537.3" cy="2034.0" r="4.9"/><circle cx="3550.4" cy="2030.5" r="4.9"/><circle cx="3563.7" cy="2032.3" r="4.9"/><circle cx="3586.6" cy="1994.6" r="4.9"/><circle cx="3598.9" cy="1991.1" r="4.9"/><circle cx="3586.6" cy="2008.3" r="4.9"/></g>
<line x1="2015.5" y1="696.5" x2="2015.5" y2="2039.5" stroke="#000" stroke-width="2"/>
<line x1="1995.5" y1="2038.5" x2="3626.0" y2="2038.5" stroke="#000" stroke-width="2"/>
<text x="1988.5" y="2052.8" font-size="32.5" text-anchor="end">0</text>
<line x1="1995.5" y1="1770.3" x2="2015.5" y2="1770.3" stroke="#000" stroke-width="2"/>
<text x="1988.5" y="1784.6" font-size="32.5" text-anchor="end" textLength="76.0" lengthAdjust="spacingAndGlyphs">2500</text>
<line x1="1995.5" y1="1502.1" x2="2015.5" y2="1502.1" stroke="#000" stroke-width="2"/>
<text x="1988.5" y="1516.4" font-size="32.5" text-anchor="end" textLength="76.0" lengthAdjust="spacingAndGlyphs">5000</text>
<line x1="1995.5" y1="1233.9" x2="2015.5" y2="1233.9" stroke="#000" stroke-width="2"/>
<text x="1988.5" y="1248.2" font-size="32.5" text-anchor="end" textLength="76.0" lengthAdjust="spacingAndGlyphs">7500</text>
<line x1="1995.5" y1="965.7" x2="2015.5" y2="965.7" stroke="#000" stroke-width="2"/>
<text x="1988.5" y="980.0" font-size="32.5" text-anchor="end" textLength="95.0" lengthAdjust="spacingAndGlyphs">10000</text>
<line x1="1995.5" y1="697.5" x2="2015.5" y2="697.5" stroke="#000" stroke-width="2"/>
<text x="1988.5" y="711.8" font-size="32.5" text-anchor="end" textLength="95.0" lengthAdjust="spacingAndGlyphs">12500</text>
<line x1="2104.3" y1="2038.5" x2="2104.3" y2="2058.6" stroke="#000" stroke-width="2"/>
<text x="2104.3" y="2094.7" font-size="32.5" text-anchor="middle">1</text>
<line x1="2282.9" y1="2038.5" x2="2282.9" y2="2058.6" stroke="#000" stroke-width="2"/>
<text x="2282.9" y="2094.7" font-size="32.5" text-anchor="middle">2</text>
<line x1="2461.4" y1="2038.5" x2="2461.4" y2="2058.6" stroke="#000" stroke-width="2"/>
<text x="2461.4" y="2094.7" font-size="32.5" text-anchor="middle">3</text>
<line x1="2640.0" y1="2038.5" x2="2640.0" y2="2058.6" stroke="#000" stroke-width="2"/>
<text x="2640.0" y="2094.7" font-size="32.5" text-anchor="middle">4</text>
<line x1="2818.6" y1="2038.5" x2="2818.6" y2="2058.6" stroke="#000" stroke-width="2"/>
<text x="2818.6" y="2094.7" font-size="32.5" text-anchor="middle">5</text>
<line x1="2997.1" y1="2038.5" x2="2997.1" y2="2058.6" stroke="#000" stroke-width="2"/>
<text x="2997.1" y="2094.7" font-size="32.5" text-anchor="middle">6</text>
<line x1="3175.7" y1="2038.5" x2="3175.7" y2="2058.6" stroke="#000" stroke-width="2"/>
<text x="3175.7" y="2094.7" font-size="32.5" text-anchor="middle">7</text>
<line x1="3354.2" y1="2038.5" x2="3354.2" y2="2058.6" stroke="#000" stroke-width="2"/>
<text x="3354.2" y="2094.7" font-size="32.5" text-anchor="middle">8</text>
<line x1="3532.8" y1="2038.5" x2="3532.8" y2="2058.6" stroke="#000" stroke-width="2"/>
<text x="3532.8" y="2094.7" font-size="32.5" text-anchor="middle">9</text>
<text x="2825.0" y="2147.6" font-size="41" text-anchor="middle" textLength="120.5" lengthAdjust="spacingAndGlyphs">Target</text>
<text x="1826.7" y="1370.5" font-size="41" text-anchor="middle" textLength="181.0" lengthAdjust="spacingAndGlyphs" transform="rotate(-90 1826.7 1370.5)">Activation</text>
<text x="1876.3" y="1368.5" font-size="41" text-anchor="middle" textLength="514.0" lengthAdjust="spacingAndGlyphs" transform="rotate(-90 1876.3 1368.5)">[Luminescence/OD<tspan font-size="24" dy="12">600</tspan><tspan dy="-12"> (a.u.)]</tspan></text>
<rect x="2137.4" y="727.3" width="46.5" height="22.5" fill="#D3D3D3"/><svg x="2137.4" y="727.3" width="46.5" height="22.5" viewBox="0 0 46.5 22.5"><path d="M-67.7,22.5 l26.5,-26.5 M-44.8,22.5 l26.5,-26.5 M-21.9,22.5 l26.5,-26.5 M1.0,22.5 l26.5,-26.5 M23.9,22.5 l26.5,-26.5 M46.8,22.5 l26.5,-26.5 " stroke="#000" stroke-width="2" fill="none"/></svg><rect x="2137.4" y="727.3" width="46.5" height="22.5" fill="none" stroke="#000" stroke-width="2"/>
<rect x="2137.4" y="853.6" width="46.5" height="22.5" fill="#D3D3D3" stroke="#000" stroke-width="2"/>
<rect x="2725.6" y="727.3" width="46.5" height="22.5" fill="#2792AF"/><svg x="2725.6" y="727.3" width="46.5" height="22.5" viewBox="0 0 46.5 22.5"><path d="M-67.7,22.5 l26.5,-26.5 M-44.8,22.5 l26.5,-26.5 M-21.9,22.5 l26.5,-26.5 M1.0,22.5 l26.5,-26.5 M23.9,22.5 l26.5,-26.5 M46.8,22.5 l26.5,-26.5 " stroke="#000" stroke-width="2" fill="none"/></svg><rect x="2725.6" y="727.3" width="46.5" height="22.5" fill="none" stroke="#000" stroke-width="2"/>
<rect x="2725.6" y="853.6" width="46.5" height="22.5" fill="#2792AF" stroke="#000" stroke-width="2"/>
<text x="2219.5" y="751.7" font-size="41">+</text>
<text x="2270.0" y="751.7" font-size="41" textLength="398.0" lengthAdjust="spacingAndGlyphs">Full length RdCas12n</text>
<text x="2219.5" y="877.4" font-size="41">+</text>
<text x="2270.0" y="877.4" font-size="41" textLength="398.0" lengthAdjust="spacingAndGlyphs">Full length RdCas12n</text>
<text x="2220.0" y="801.0" font-size="41">–</text>
<text x="2267.0" y="801.0" font-size="41" textLength="121.5" lengthAdjust="spacingAndGlyphs">Target</text>
<text x="2219.5" y="926.4" font-size="41">+</text>
<text x="2270.0" y="926.4" font-size="41" textLength="121.5" lengthAdjust="spacingAndGlyphs">Target</text>
<text x="2806.0" y="751.7" font-size="41">+</text>
<text x="2856.5" y="751.7" font-size="41" textLength="238.5" lengthAdjust="spacingAndGlyphs">N-RdCas12n</text>
<text x="2806.0" y="877.4" font-size="41">+</text>
<text x="2856.5" y="877.4" font-size="41" textLength="238.5" lengthAdjust="spacingAndGlyphs">N-RdCas12n</text>
<text x="2806.5" y="801.0" font-size="41">–</text>
<text x="2853.5" y="801.0" font-size="41" textLength="121.5" lengthAdjust="spacingAndGlyphs">Target</text>
<text x="2806.0" y="926.4" font-size="41">+</text>
<text x="2856.5" y="926.4" font-size="41" textLength="121.5" lengthAdjust="spacingAndGlyphs">Target</text>
</g>
</svg>
</body></html>
